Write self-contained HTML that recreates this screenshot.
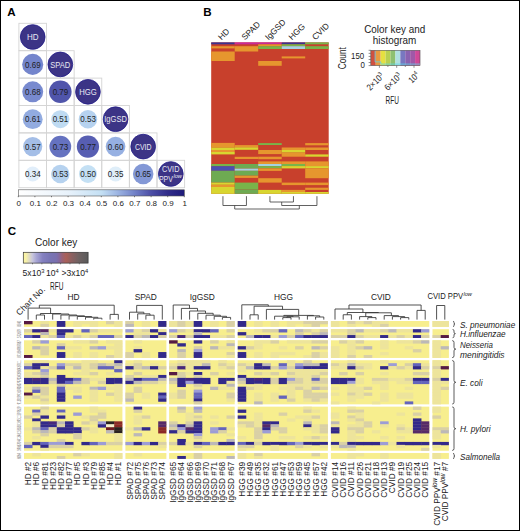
<!DOCTYPE html>
<html><head><meta charset="utf-8"><style>
html,body{margin:0;padding:0;background:#fff;}
body{width:520px;height:531px;overflow:hidden;}
svg{display:block;font-family:"Liberation Sans",sans-serif;}
</style></head><body>
<svg width="520" height="531" viewBox="0 0 520 531">
<rect x="0" y="0" width="520" height="531" fill="#fff"/>
<text x="7.2" y="16.2" font-size="11.6" fill="#000" font-weight="bold">A</text>
<rect x="18.9" y="23.3" width="27.62" height="27.4" fill="none" stroke="#d4d4d4" stroke-width="0.9"/>
<rect x="18.9" y="50.7" width="27.62" height="27.4" fill="none" stroke="#d4d4d4" stroke-width="0.9"/>
<rect x="46.52" y="50.7" width="27.62" height="27.4" fill="none" stroke="#d4d4d4" stroke-width="0.9"/>
<rect x="18.9" y="78.1" width="27.62" height="27.4" fill="none" stroke="#d4d4d4" stroke-width="0.9"/>
<rect x="46.52" y="78.1" width="27.62" height="27.4" fill="none" stroke="#d4d4d4" stroke-width="0.9"/>
<rect x="74.14" y="78.1" width="27.62" height="27.4" fill="none" stroke="#d4d4d4" stroke-width="0.9"/>
<rect x="18.9" y="105.5" width="27.62" height="27.4" fill="none" stroke="#d4d4d4" stroke-width="0.9"/>
<rect x="46.52" y="105.5" width="27.62" height="27.4" fill="none" stroke="#d4d4d4" stroke-width="0.9"/>
<rect x="74.14" y="105.5" width="27.62" height="27.4" fill="none" stroke="#d4d4d4" stroke-width="0.9"/>
<rect x="101.76" y="105.5" width="27.62" height="27.4" fill="none" stroke="#d4d4d4" stroke-width="0.9"/>
<rect x="18.9" y="132.9" width="27.62" height="27.4" fill="none" stroke="#d4d4d4" stroke-width="0.9"/>
<rect x="46.52" y="132.9" width="27.62" height="27.4" fill="none" stroke="#d4d4d4" stroke-width="0.9"/>
<rect x="74.14" y="132.9" width="27.62" height="27.4" fill="none" stroke="#d4d4d4" stroke-width="0.9"/>
<rect x="101.76" y="132.9" width="27.62" height="27.4" fill="none" stroke="#d4d4d4" stroke-width="0.9"/>
<rect x="129.38" y="132.9" width="27.62" height="27.4" fill="none" stroke="#d4d4d4" stroke-width="0.9"/>
<rect x="18.9" y="160.3" width="27.62" height="27.4" fill="none" stroke="#d4d4d4" stroke-width="0.9"/>
<rect x="46.52" y="160.3" width="27.62" height="27.4" fill="none" stroke="#d4d4d4" stroke-width="0.9"/>
<rect x="74.14" y="160.3" width="27.62" height="27.4" fill="none" stroke="#d4d4d4" stroke-width="0.9"/>
<rect x="101.76" y="160.3" width="27.62" height="27.4" fill="none" stroke="#d4d4d4" stroke-width="0.9"/>
<rect x="129.38" y="160.3" width="27.62" height="27.4" fill="none" stroke="#d4d4d4" stroke-width="0.9"/>
<rect x="157" y="160.3" width="27.62" height="27.4" fill="none" stroke="#d4d4d4" stroke-width="0.9"/>
<circle cx="32.71" cy="37" r="12.35" fill="#3c3486" stroke="#221c88" stroke-width="0.8"/>
<text x="32.71" y="40.1" font-size="9.2" fill="#e8e8f2" text-anchor="middle" textLength="11.6" lengthAdjust="spacingAndGlyphs">HD</text>
<circle cx="32.71" cy="64.4" r="10.55" fill="#7485cc"/>
<text x="32.81" y="67.6" font-size="9.6" fill="#1e1e1e" text-anchor="middle" textLength="15.6" lengthAdjust="spacingAndGlyphs">0.69</text>
<circle cx="60.33" cy="64.4" r="12.35" fill="#3c3486" stroke="#221c88" stroke-width="0.8"/>
<text x="60.33" y="67.5" font-size="9.2" fill="#e8e8f2" text-anchor="middle" textLength="20.0" lengthAdjust="spacingAndGlyphs">SPAD</text>
<circle cx="32.71" cy="91.8" r="10.47" fill="#788acf"/>
<text x="32.81" y="95" font-size="9.6" fill="#1e1e1e" text-anchor="middle" textLength="15.6" lengthAdjust="spacingAndGlyphs">0.68</text>
<circle cx="60.33" cy="91.8" r="11.29" fill="#5055ab"/>
<text x="60.43" y="95" font-size="9.6" fill="#1e1e1e" text-anchor="middle" textLength="15.6" lengthAdjust="spacingAndGlyphs">0.79</text>
<circle cx="87.95" cy="91.8" r="12.35" fill="#3c3486" stroke="#221c88" stroke-width="0.8"/>
<text x="87.95" y="94.9" font-size="9.2" fill="#e8e8f2" text-anchor="middle" textLength="17.6" lengthAdjust="spacingAndGlyphs">HGG</text>
<circle cx="32.71" cy="119.2" r="9.92" fill="#92abe0"/>
<text x="32.81" y="122.4" font-size="9.6" fill="#1e1e1e" text-anchor="middle" textLength="15.6" lengthAdjust="spacingAndGlyphs">0.61</text>
<circle cx="60.33" cy="119.2" r="9.07" fill="#bfdbf2"/>
<text x="60.43" y="122.4" font-size="9.6" fill="#1e1e1e" text-anchor="middle" textLength="15.6" lengthAdjust="spacingAndGlyphs">0.51</text>
<circle cx="87.95" cy="119.2" r="9.25" fill="#b6d2ef"/>
<text x="88.05" y="122.4" font-size="9.6" fill="#1e1e1e" text-anchor="middle" textLength="15.6" lengthAdjust="spacingAndGlyphs">0.53</text>
<circle cx="115.57" cy="119.2" r="12.35" fill="#3c3486" stroke="#221c88" stroke-width="0.8"/>
<text x="115.57" y="122.3" font-size="9.2" fill="#e8e8f2" text-anchor="middle" textLength="22.6" lengthAdjust="spacingAndGlyphs">IgGSD</text>
<circle cx="32.71" cy="146.6" r="9.59" fill="#a4bee7"/>
<text x="32.81" y="149.8" font-size="9.6" fill="#1e1e1e" text-anchor="middle" textLength="15.6" lengthAdjust="spacingAndGlyphs">0.57</text>
<circle cx="60.33" cy="146.6" r="10.85" fill="#6572c0"/>
<text x="60.43" y="149.8" font-size="9.6" fill="#1e1e1e" text-anchor="middle" textLength="15.6" lengthAdjust="spacingAndGlyphs">0.73</text>
<circle cx="87.95" cy="146.6" r="11.14" fill="#575eb2"/>
<text x="88.05" y="149.8" font-size="9.6" fill="#1e1e1e" text-anchor="middle" textLength="15.6" lengthAdjust="spacingAndGlyphs">0.77</text>
<circle cx="115.57" cy="146.6" r="9.84" fill="#96b0e2"/>
<text x="115.67" y="149.8" font-size="9.6" fill="#1e1e1e" text-anchor="middle" textLength="15.6" lengthAdjust="spacingAndGlyphs">0.60</text>
<circle cx="143.19" cy="146.6" r="12.35" fill="#3c3486" stroke="#221c88" stroke-width="0.8"/>
<text x="143.19" y="149.7" font-size="9.2" fill="#e8e8f2" text-anchor="middle" textLength="16.6" lengthAdjust="spacingAndGlyphs">CVID</text>
<circle cx="32.71" cy="174" r="7.41" fill="#e1eefa"/>
<text x="32.81" y="177.2" font-size="9.6" fill="#1e1e1e" text-anchor="middle" textLength="15.6" lengthAdjust="spacingAndGlyphs">0.34</text>
<circle cx="60.33" cy="174" r="9.25" fill="#b6d2ef"/>
<text x="60.43" y="177.2" font-size="9.6" fill="#1e1e1e" text-anchor="middle" textLength="15.6" lengthAdjust="spacingAndGlyphs">0.53</text>
<circle cx="87.95" cy="174" r="8.98" fill="#c4e0f4"/>
<text x="88.05" y="177.2" font-size="9.6" fill="#1e1e1e" text-anchor="middle" textLength="15.6" lengthAdjust="spacingAndGlyphs">0.50</text>
<circle cx="115.57" cy="174" r="7.51" fill="#dfeef9"/>
<text x="115.67" y="177.2" font-size="9.6" fill="#1e1e1e" text-anchor="middle" textLength="15.6" lengthAdjust="spacingAndGlyphs">0.35</text>
<circle cx="143.19" cy="174" r="10.24" fill="#8398d6"/>
<text x="143.29" y="177.2" font-size="9.6" fill="#1e1e1e" text-anchor="middle" textLength="15.6" lengthAdjust="spacingAndGlyphs">0.65</text>
<circle cx="170.81" cy="174" r="12.35" fill="#3c3486" stroke="#221c88" stroke-width="0.8"/>
<text x="170.71" y="172" font-size="8.4" fill="#e8e8f2" text-anchor="middle" textLength="17.4" lengthAdjust="spacingAndGlyphs">CVID</text>
<text x="158.91" y="182" font-size="9.0" fill="#e8e8f2" textLength="14.0" lengthAdjust="spacingAndGlyphs">PPV</text>
<text x="173.41" y="178.3" font-size="5.6" fill="#e8e8f2" font-style="italic" textLength="8.4" lengthAdjust="spacingAndGlyphs">low</text>
<defs><linearGradient id="gA" x1="0" x2="1" y1="0" y2="0"><stop offset="0" stop-color="#ffffff"/><stop offset="0.3" stop-color="#e8f2fb"/><stop offset="0.5" stop-color="#c4e0f4"/><stop offset="0.6" stop-color="#9cb4e2"/><stop offset="0.7" stop-color="#7282c8"/><stop offset="0.8" stop-color="#4c4ea6"/><stop offset="0.9" stop-color="#302c8a"/><stop offset="1" stop-color="#1e1a7a"/></linearGradient>
<linearGradient id="gB" x1="0" x2="1" y1="0" y2="0"><stop offset="0" stop-color="#fcf5a4"/><stop offset="0.04" stop-color="#f8f2a8"/><stop offset="0.14" stop-color="#c8c6dc"/><stop offset="0.2" stop-color="#a8a6d4"/><stop offset="0.3" stop-color="#8480c0"/><stop offset="0.42" stop-color="#7874b4"/><stop offset="0.51" stop-color="#7a70ae"/><stop offset="0.55" stop-color="#84689e"/><stop offset="0.6" stop-color="#9a6274"/><stop offset="0.66" stop-color="#aa6058"/><stop offset="0.74" stop-color="#8e6060"/><stop offset="0.85" stop-color="#706262"/><stop offset="1" stop-color="#5a5a5a"/></linearGradient></defs>
<rect x="18.3" y="189.8" width="166" height="6.2" fill="url(#gA)" stroke="#555" stroke-width="0.6"/>
<line x1="18.3" y1="196" x2="18.3" y2="197.2" stroke="#555" stroke-width="0.8"/>
<text x="18.7" y="206.3" font-size="8.0" fill="#222" text-anchor="middle">0</text>
<line x1="34.9" y1="196" x2="34.9" y2="197.2" stroke="#555" stroke-width="0.8"/>
<text x="35.3" y="206.3" font-size="8.0" fill="#222" text-anchor="middle">0.1</text>
<line x1="51.5" y1="196" x2="51.5" y2="197.2" stroke="#555" stroke-width="0.8"/>
<text x="51.9" y="206.3" font-size="8.0" fill="#222" text-anchor="middle">0.2</text>
<line x1="68.1" y1="196" x2="68.1" y2="197.2" stroke="#555" stroke-width="0.8"/>
<text x="68.5" y="206.3" font-size="8.0" fill="#222" text-anchor="middle">0.3</text>
<line x1="84.7" y1="196" x2="84.7" y2="197.2" stroke="#555" stroke-width="0.8"/>
<text x="85.1" y="206.3" font-size="8.0" fill="#222" text-anchor="middle">0.4</text>
<line x1="101.3" y1="196" x2="101.3" y2="197.2" stroke="#555" stroke-width="0.8"/>
<text x="101.7" y="206.3" font-size="8.0" fill="#222" text-anchor="middle">0.5</text>
<line x1="117.9" y1="196" x2="117.9" y2="197.2" stroke="#555" stroke-width="0.8"/>
<text x="118.3" y="206.3" font-size="8.0" fill="#222" text-anchor="middle">0.6</text>
<line x1="134.5" y1="196" x2="134.5" y2="197.2" stroke="#555" stroke-width="0.8"/>
<text x="134.9" y="206.3" font-size="8.0" fill="#222" text-anchor="middle">0.7</text>
<line x1="151.1" y1="196" x2="151.1" y2="197.2" stroke="#555" stroke-width="0.8"/>
<text x="151.5" y="206.3" font-size="8.0" fill="#222" text-anchor="middle">0.8</text>
<line x1="167.7" y1="196" x2="167.7" y2="197.2" stroke="#555" stroke-width="0.8"/>
<text x="168.1" y="206.3" font-size="8.0" fill="#222" text-anchor="middle">0.9</text>
<line x1="184.3" y1="196" x2="184.3" y2="197.2" stroke="#555" stroke-width="0.8"/>
<text x="184.7" y="206.3" font-size="8.0" fill="#222" text-anchor="middle">1</text>
<text x="203.2" y="16.2" font-size="11.6" fill="#000" font-weight="bold">B</text>
<rect x="211.2" y="42.4" width="117.5" height="151.4" fill="#c8402c"/>
<rect x="211.2" y="42.4" width="23.5" height="1.9" fill="#3c3290"/>
<rect x="211.2" y="46.2" width="23.5" height="2.2" fill="#e6962e"/>
<rect x="211.2" y="51.5" width="23.5" height="9.5" fill="#e6962e"/>
<rect x="211.2" y="142.9" width="23.5" height="4.7" fill="#e6962e"/>
<rect x="211.2" y="147.6" width="23.5" height="2.4" fill="#d8d630"/>
<rect x="211.2" y="150" width="23.5" height="2" fill="#e6962e"/>
<rect x="211.2" y="152" width="23.5" height="2.4" fill="#d8d630"/>
<rect x="211.2" y="164" width="23.5" height="2.2" fill="#78b44a"/>
<rect x="211.2" y="166.2" width="23.5" height="4.6" fill="#4a50b0"/>
<rect x="211.2" y="170.8" width="23.5" height="11.8" fill="#6eaa52"/>
<rect x="211.2" y="182.6" width="23.5" height="2.2" fill="#d8d630"/>
<rect x="211.2" y="184.8" width="23.5" height="2.2" fill="#e6962e"/>
<rect x="211.2" y="187" width="23.5" height="6.8" fill="#d8d630"/>
<rect x="234.7" y="42.4" width="23.5" height="1.9" fill="#c82a98"/>
<rect x="234.7" y="46.2" width="23.5" height="5.3" fill="#e6962e"/>
<rect x="234.7" y="145.1" width="23.5" height="2.2" fill="#e6962e"/>
<rect x="234.7" y="147.3" width="23.5" height="2.5" fill="#d8d630"/>
<rect x="234.7" y="156.8" width="23.5" height="2.2" fill="#e6962e"/>
<rect x="234.7" y="164" width="23.5" height="4.6" fill="#6eaa52"/>
<rect x="234.7" y="168.6" width="23.5" height="2.2" fill="#a4d2e2"/>
<rect x="234.7" y="170.8" width="23.5" height="4.9" fill="#6eaa52"/>
<rect x="234.7" y="175.7" width="23.5" height="2.2" fill="#e6962e"/>
<rect x="234.7" y="182.6" width="23.5" height="6.8" fill="#78b44a"/>
<rect x="234.7" y="189.4" width="23.5" height="4.4" fill="#6eaa52"/>
<rect x="258.2" y="42.4" width="23.5" height="1.9" fill="#c82a98"/>
<rect x="258.2" y="44.3" width="23.5" height="1.9" fill="#e6962e"/>
<rect x="258.2" y="46.2" width="23.5" height="2.8" fill="#78b44a"/>
<rect x="258.2" y="61" width="23.5" height="4.8" fill="#e6962e"/>
<rect x="258.2" y="143.1" width="23.5" height="1.9" fill="#78b44a"/>
<rect x="258.2" y="150" width="23.5" height="4.1" fill="#e6962e"/>
<rect x="258.2" y="156.7" width="23.5" height="2.5" fill="#e6962e"/>
<rect x="258.2" y="161.4" width="23.5" height="2.6" fill="#e6962e"/>
<rect x="258.2" y="164" width="23.5" height="2.1" fill="#a4d2e2"/>
<rect x="258.2" y="166.1" width="23.5" height="2.3" fill="#78b44a"/>
<rect x="258.2" y="168.4" width="23.5" height="2.5" fill="#e6962e"/>
<rect x="258.2" y="178.2" width="23.5" height="4.4" fill="#e6962e"/>
<rect x="258.2" y="189.9" width="23.5" height="3.9" fill="#d8d630"/>
<rect x="281.7" y="42.4" width="23.5" height="1.9" fill="#3c3290"/>
<rect x="281.7" y="44.3" width="23.5" height="1.9" fill="#78b44a"/>
<rect x="281.7" y="46.2" width="23.5" height="2.8" fill="#a4d2e2"/>
<rect x="281.7" y="56.4" width="23.5" height="2" fill="#e6962e"/>
<rect x="281.7" y="147.5" width="23.5" height="2.5" fill="#e6962e"/>
<rect x="281.7" y="150" width="23.5" height="2.6" fill="#d8d630"/>
<rect x="281.7" y="152.6" width="23.5" height="4.1" fill="#e6962e"/>
<rect x="281.7" y="161.4" width="23.5" height="2.6" fill="#e6962e"/>
<rect x="281.7" y="164" width="23.5" height="2.1" fill="#78b44a"/>
<rect x="281.7" y="166.1" width="23.5" height="2.3" fill="#d8d630"/>
<rect x="281.7" y="182.6" width="23.5" height="2.5" fill="#e6962e"/>
<rect x="281.7" y="189.9" width="23.5" height="2.1" fill="#e6962e"/>
<rect x="281.7" y="192" width="23.5" height="1.8" fill="#d8d630"/>
<rect x="305.2" y="42.4" width="23.5" height="1.9" fill="#78b44a"/>
<rect x="305.2" y="46.2" width="23.5" height="2.8" fill="#78b44a"/>
<rect x="305.2" y="143.1" width="23.5" height="2.2" fill="#e6962e"/>
<rect x="305.2" y="147.5" width="23.5" height="2.5" fill="#e6962e"/>
<rect x="305.2" y="154.4" width="23.5" height="2.3" fill="#d8d630"/>
<rect x="305.2" y="161.4" width="23.5" height="4.7" fill="#e6962e"/>
<rect x="305.2" y="166.1" width="23.5" height="2.3" fill="#d8d630"/>
<rect x="305.2" y="168.4" width="23.5" height="9.8" fill="#e6962e"/>
<rect x="305.2" y="182.6" width="23.5" height="2.5" fill="#e6962e"/>
<rect x="305.2" y="187.7" width="23.5" height="2.2" fill="#e6962e"/>
<rect x="305.2" y="192" width="23.5" height="1.8" fill="#d8d630"/>
<text x="221.55" y="40.6" font-size="8.4" fill="#222" transform="rotate(-45 221.55 40.6)">HD</text>
<text x="245.05" y="40.6" font-size="8.4" fill="#222" transform="rotate(-45 245.05 40.6)">SPAD</text>
<text x="268.55" y="40.6" font-size="8.4" fill="#222" transform="rotate(-45 268.55 40.6)">IgGSD</text>
<text x="292.05" y="40.6" font-size="8.4" fill="#222" transform="rotate(-45 292.05 40.6)">HGG</text>
<text x="315.55" y="40.6" font-size="8.4" fill="#222" transform="rotate(-45 315.55 40.6)">CVID</text>
<path d="M222.95 196.2V205.5H246.45V196.2" fill="none" stroke="#3a3a3a" stroke-width="0.8"/>
<path d="M269.95 196.2V202H293.45V196.2" fill="none" stroke="#3a3a3a" stroke-width="0.8"/>
<path d="M281.7 202V205.5H316.95V196.2" fill="none" stroke="#3a3a3a" stroke-width="0.8"/>
<path d="M234.7 205.5V209H299.32V205.5" fill="none" stroke="#3a3a3a" stroke-width="0.8"/>
<text x="0" y="0" font-size="10.6" fill="#222" text-anchor="middle" transform="translate(394.7 33) scale(0.935 1)">Color key and</text>
<text x="0" y="0" font-size="10.6" fill="#222" text-anchor="middle" transform="translate(394.6 43.8) scale(0.935 1)">histogram</text>
<rect x="370.8" y="50.3" width="4.97" height="15.3" fill="#d05040"/>
<rect x="375.72" y="50.3" width="4.97" height="15.3" fill="#e89a40"/>
<rect x="380.64" y="50.3" width="4.97" height="15.3" fill="#e6e040"/>
<rect x="385.56" y="50.3" width="4.97" height="15.3" fill="#b8d050"/>
<rect x="390.48" y="50.3" width="4.97" height="15.3" fill="#8ec070"/>
<rect x="395.4" y="50.3" width="4.97" height="15.3" fill="#b0e0e0"/>
<rect x="400.32" y="50.3" width="4.97" height="15.3" fill="#7878c0"/>
<rect x="405.24" y="50.3" width="4.97" height="15.3" fill="#8a62b0"/>
<rect x="410.16" y="50.3" width="4.97" height="15.3" fill="#a058a8"/>
<rect x="415.08" y="50.3" width="4.97" height="15.3" fill="#d04898"/>
<rect x="370.8" y="50.3" width="49.2" height="15.3" fill="none" stroke="#555" stroke-width="0.6"/>
<path d="M375.1 51.1V61.9H380.8V64.1H420" fill="none" stroke="#5ed6e6" stroke-width="0.8"/>
<line x1="368.6" y1="50.3" x2="370.8" y2="50.3" stroke="#444" stroke-width="0.6"/>
<line x1="368.6" y1="53.36" x2="370.8" y2="53.36" stroke="#444" stroke-width="0.6"/>
<line x1="368.6" y1="56.42" x2="370.8" y2="56.42" stroke="#444" stroke-width="0.6"/>
<line x1="368.6" y1="59.48" x2="370.8" y2="59.48" stroke="#444" stroke-width="0.6"/>
<line x1="368.6" y1="62.54" x2="370.8" y2="62.54" stroke="#444" stroke-width="0.6"/>
<line x1="368.6" y1="65.6" x2="370.8" y2="65.6" stroke="#444" stroke-width="0.6"/>
<text x="0" y="0" font-size="9.4" fill="#222" text-anchor="end" transform="translate(364.2 59.4) scale(0.84 1)">150</text>
<text x="0" y="0" font-size="9.4" fill="#222" text-anchor="end" transform="translate(364.9 68.4) scale(0.84 1)">0</text>
<text x="0" y="0" font-size="10.4" fill="#222" text-anchor="middle" transform="translate(345.9 58.2) rotate(-90) scale(0.8 1)">Count</text>
<line x1="379.4" y1="65.6" x2="379.4" y2="67.8" stroke="#444" stroke-width="0.6"/>
<line x1="396.7" y1="65.6" x2="396.7" y2="67.8" stroke="#444" stroke-width="0.6"/>
<line x1="414" y1="65.6" x2="414" y2="67.8" stroke="#444" stroke-width="0.6"/>
<line x1="387.9" y1="65.6" x2="387.9" y2="67" stroke="#444" stroke-width="0.6"/>
<line x1="405.3" y1="65.6" x2="405.3" y2="67" stroke="#444" stroke-width="0.6"/>
<text x="0" y="0" font-size="9.0" fill="#222" text-anchor="end" transform="translate(384.6 76.6) rotate(-45) scale(0.86 1)">2×10<tspan font-size="6.0" dy="-3.2">3</tspan></text>
<text x="0" y="0" font-size="9.0" fill="#222" text-anchor="end" transform="translate(402.4 76.6) rotate(-45) scale(0.86 1)">6×10<tspan font-size="6.0" dy="-3.2">3</tspan></text>
<text x="0" y="0" font-size="9.0" fill="#222" text-anchor="end" transform="translate(420 75.6) rotate(-45) scale(0.86 1)">10<tspan font-size="6.0" dy="-3.2">4</tspan></text>
<text x="392.3" y="103.8" font-size="10.4" fill="#222" text-anchor="middle" textLength="13.4" lengthAdjust="spacingAndGlyphs">RFU</text>
<text x="7.7" y="235.2" font-size="11.6" fill="#000" font-weight="bold">C</text>
<text x="56.2" y="246.3" font-size="10.0" fill="#222" text-anchor="middle">Color key</text>
<rect x="23.3" y="252.3" width="64.8" height="10.8" fill="url(#gB)" stroke="#333" stroke-width="0.7"/>
<line x1="32.5" y1="263.1" x2="32.5" y2="264.3" stroke="#333" stroke-width="0.6"/>
<line x1="41.86" y1="263.1" x2="41.86" y2="264.3" stroke="#333" stroke-width="0.6"/>
<line x1="51.22" y1="263.1" x2="51.22" y2="264.3" stroke="#333" stroke-width="0.6"/>
<line x1="60.58" y1="263.1" x2="60.58" y2="264.3" stroke="#333" stroke-width="0.6"/>
<line x1="69.94" y1="263.1" x2="69.94" y2="264.3" stroke="#333" stroke-width="0.6"/>
<line x1="79.3" y1="263.1" x2="79.3" y2="264.3" stroke="#333" stroke-width="0.6"/>
<text x="22.6" y="276" font-size="8.6" fill="#222">5x10<tspan font-size="5.8" dy="-3.4">3</tspan></text>
<text x="46" y="276" font-size="8.6" fill="#222">10<tspan font-size="5.8" dy="-3.4">4</tspan></text>
<text x="61.4" y="276" font-size="8.6" fill="#222">&gt;3x10<tspan font-size="5.8" dy="-3.4">4</tspan></text>
<text x="56.8" y="289.8" font-size="11.0" fill="#222" text-anchor="middle" textLength="13.4" lengthAdjust="spacingAndGlyphs">RFU</text>
<text x="19.6" y="316" font-size="8.6" fill="#222" transform="rotate(-45 19.6 316)">Chart No.</text>
<rect x="24" y="321" width="98.4" height="5.88" fill="#f7ee8e"/>
<rect x="125.4" y="321" width="41" height="5.88" fill="#f7ee8e"/>
<rect x="169.1" y="321" width="65.6" height="5.88" fill="#f7ee8e"/>
<rect x="237.7" y="321" width="90.2" height="5.88" fill="#f7ee8e"/>
<rect x="330.9" y="321" width="98.4" height="5.88" fill="#f7ee8e"/>
<rect x="432.5" y="321" width="16.4" height="5.88" fill="#f7ee8e"/>
<rect x="24" y="329.18" width="98.4" height="8.82" fill="#f7ee8e"/>
<rect x="125.4" y="329.18" width="41" height="8.82" fill="#f7ee8e"/>
<rect x="169.1" y="329.18" width="65.6" height="8.82" fill="#f7ee8e"/>
<rect x="237.7" y="329.18" width="90.2" height="8.82" fill="#f7ee8e"/>
<rect x="330.9" y="329.18" width="98.4" height="8.82" fill="#f7ee8e"/>
<rect x="432.5" y="329.18" width="16.4" height="8.82" fill="#f7ee8e"/>
<rect x="24" y="340.3" width="98.4" height="17.64" fill="#f7ee8e"/>
<rect x="125.4" y="340.3" width="41" height="17.64" fill="#f7ee8e"/>
<rect x="169.1" y="340.3" width="65.6" height="17.64" fill="#f7ee8e"/>
<rect x="237.7" y="340.3" width="90.2" height="17.64" fill="#f7ee8e"/>
<rect x="330.9" y="340.3" width="98.4" height="17.64" fill="#f7ee8e"/>
<rect x="432.5" y="340.3" width="16.4" height="17.64" fill="#f7ee8e"/>
<rect x="24" y="360.24" width="98.4" height="44.1" fill="#f7ee8e"/>
<rect x="125.4" y="360.24" width="41" height="44.1" fill="#f7ee8e"/>
<rect x="169.1" y="360.24" width="65.6" height="44.1" fill="#f7ee8e"/>
<rect x="237.7" y="360.24" width="90.2" height="44.1" fill="#f7ee8e"/>
<rect x="330.9" y="360.24" width="98.4" height="44.1" fill="#f7ee8e"/>
<rect x="432.5" y="360.24" width="16.4" height="44.1" fill="#f7ee8e"/>
<rect x="24" y="406.64" width="98.4" height="44.1" fill="#f7ee8e"/>
<rect x="125.4" y="406.64" width="41" height="44.1" fill="#f7ee8e"/>
<rect x="169.1" y="406.64" width="65.6" height="44.1" fill="#f7ee8e"/>
<rect x="237.7" y="406.64" width="90.2" height="44.1" fill="#f7ee8e"/>
<rect x="330.9" y="406.64" width="98.4" height="44.1" fill="#f7ee8e"/>
<rect x="432.5" y="406.64" width="16.4" height="44.1" fill="#f7ee8e"/>
<rect x="24" y="453.04" width="98.4" height="5.88" fill="#f7ee8e"/>
<rect x="125.4" y="453.04" width="41" height="5.88" fill="#f7ee8e"/>
<rect x="169.1" y="453.04" width="65.6" height="5.88" fill="#f7ee8e"/>
<rect x="237.7" y="453.04" width="90.2" height="5.88" fill="#f7ee8e"/>
<rect x="330.9" y="453.04" width="98.4" height="5.88" fill="#f7ee8e"/>
<rect x="432.5" y="453.04" width="16.4" height="5.88" fill="#f7ee8e"/>
<rect x="24" y="321" width="8.55" height="3.29" fill="#561a44"/>
<rect x="40.4" y="321" width="8.55" height="3.29" fill="#ede49c"/>
<rect x="56.8" y="321" width="8.55" height="3.29" fill="#32298a"/>
<rect x="73.2" y="321" width="8.55" height="3.29" fill="#ede49c"/>
<rect x="81.4" y="321" width="8.55" height="3.29" fill="#ede49c"/>
<rect x="89.6" y="321" width="8.55" height="3.29" fill="#ede49c"/>
<rect x="106" y="321" width="8.55" height="3.29" fill="#d9d0a6"/>
<rect x="114.2" y="321" width="8.2" height="3.29" fill="#ede49c"/>
<rect x="40.4" y="323.94" width="8.55" height="2.94" fill="#d9d0a6"/>
<rect x="56.8" y="323.94" width="8.55" height="2.94" fill="#32298a"/>
<rect x="73.2" y="323.94" width="8.55" height="2.94" fill="#ede49c"/>
<rect x="89.6" y="323.94" width="8.55" height="2.94" fill="#ede49c"/>
<rect x="114.2" y="323.94" width="8.2" height="2.94" fill="#ede49c"/>
<rect x="24" y="329.18" width="8.55" height="3.29" fill="#d9d0a6"/>
<rect x="32.2" y="329.18" width="8.55" height="3.29" fill="#32298a"/>
<rect x="40.4" y="329.18" width="8.55" height="3.29" fill="#562a68"/>
<rect x="48.6" y="329.18" width="8.55" height="3.29" fill="#ede49c"/>
<rect x="56.8" y="329.18" width="8.55" height="3.29" fill="#32298a"/>
<rect x="65" y="329.18" width="8.55" height="3.29" fill="#32298a"/>
<rect x="81.4" y="329.18" width="8.55" height="3.29" fill="#6464bc"/>
<rect x="89.6" y="329.18" width="8.55" height="3.29" fill="#d9d0a6"/>
<rect x="97.8" y="329.18" width="8.55" height="3.29" fill="#ede49c"/>
<rect x="106" y="329.18" width="8.55" height="3.29" fill="#ede49c"/>
<rect x="114.2" y="329.18" width="8.2" height="3.29" fill="#ede49c"/>
<rect x="40.4" y="332.12" width="8.55" height="3.29" fill="#bcb8b8"/>
<rect x="56.8" y="332.12" width="8.55" height="3.29" fill="#32298a"/>
<rect x="24" y="335.06" width="8.55" height="2.94" fill="#6464bc"/>
<rect x="32.2" y="335.06" width="8.55" height="2.94" fill="#32298a"/>
<rect x="40.4" y="335.06" width="8.55" height="2.94" fill="#ede49c"/>
<rect x="48.6" y="335.06" width="8.55" height="2.94" fill="#d9d0a6"/>
<rect x="56.8" y="335.06" width="8.55" height="2.94" fill="#6464bc"/>
<rect x="65" y="335.06" width="8.55" height="2.94" fill="#ede49c"/>
<rect x="73.2" y="335.06" width="8.55" height="2.94" fill="#d9d0a6"/>
<rect x="81.4" y="335.06" width="8.55" height="2.94" fill="#ede49c"/>
<rect x="89.6" y="335.06" width="8.55" height="2.94" fill="#d9d0a6"/>
<rect x="97.8" y="335.06" width="8.55" height="2.94" fill="#6464bc"/>
<rect x="106" y="335.06" width="8.55" height="2.94" fill="#6464bc"/>
<rect x="114.2" y="335.06" width="8.2" height="2.94" fill="#d9d0a6"/>
<rect x="32.2" y="340.3" width="8.55" height="3.29" fill="#d9d0a6"/>
<rect x="40.4" y="340.3" width="8.55" height="3.29" fill="#9c9cd6"/>
<rect x="73.2" y="340.3" width="8.55" height="3.29" fill="#ede49c"/>
<rect x="81.4" y="340.3" width="8.55" height="3.29" fill="#ede49c"/>
<rect x="89.6" y="340.3" width="8.55" height="3.29" fill="#d9d0a6"/>
<rect x="106" y="340.3" width="8.55" height="3.29" fill="#ede49c"/>
<rect x="114.2" y="340.3" width="8.2" height="3.29" fill="#ede49c"/>
<rect x="56.8" y="343.24" width="8.55" height="3.29" fill="#d9d0a6"/>
<rect x="114.2" y="343.24" width="8.2" height="3.29" fill="#ede49c"/>
<rect x="32.2" y="346.18" width="8.55" height="3.29" fill="#bcb8b8"/>
<rect x="40.4" y="346.18" width="8.55" height="3.29" fill="#d9d0a6"/>
<rect x="56.8" y="346.18" width="8.55" height="3.29" fill="#6464bc"/>
<rect x="65" y="346.18" width="8.55" height="3.29" fill="#ede49c"/>
<rect x="73.2" y="346.18" width="8.55" height="3.29" fill="#ede49c"/>
<rect x="89.6" y="346.18" width="8.55" height="3.29" fill="#bcb8b8"/>
<rect x="97.8" y="346.18" width="8.55" height="3.29" fill="#9c9cd6"/>
<rect x="106" y="346.18" width="8.55" height="3.29" fill="#ede49c"/>
<rect x="114.2" y="346.18" width="8.2" height="3.29" fill="#ede49c"/>
<rect x="40.4" y="349.12" width="8.55" height="3.29" fill="#d9d0a6"/>
<rect x="114.2" y="349.12" width="8.2" height="3.29" fill="#ede49c"/>
<rect x="40.4" y="352.06" width="8.55" height="3.29" fill="#d9d0a6"/>
<rect x="56.8" y="352.06" width="8.55" height="3.29" fill="#32298a"/>
<rect x="73.2" y="352.06" width="8.55" height="3.29" fill="#ede49c"/>
<rect x="89.6" y="352.06" width="8.55" height="3.29" fill="#ede49c"/>
<rect x="114.2" y="352.06" width="8.2" height="3.29" fill="#ede49c"/>
<rect x="24" y="355" width="8.55" height="2.94" fill="#561a44"/>
<rect x="56.8" y="355" width="8.55" height="2.94" fill="#32298a"/>
<rect x="73.2" y="355" width="8.55" height="2.94" fill="#ede49c"/>
<rect x="89.6" y="355" width="8.55" height="2.94" fill="#ede49c"/>
<rect x="106" y="355" width="8.55" height="2.94" fill="#d9d0a6"/>
<rect x="114.2" y="355" width="8.2" height="2.94" fill="#ede49c"/>
<rect x="32.2" y="360.24" width="8.55" height="3.29" fill="#ede49c"/>
<rect x="40.4" y="360.24" width="8.55" height="3.29" fill="#ede49c"/>
<rect x="81.4" y="360.24" width="8.55" height="3.29" fill="#ede49c"/>
<rect x="89.6" y="360.24" width="8.55" height="3.29" fill="#ede49c"/>
<rect x="114.2" y="360.24" width="8.2" height="3.29" fill="#32298a"/>
<rect x="24" y="363.18" width="8.55" height="3.29" fill="#d9d0a6"/>
<rect x="32.2" y="363.18" width="8.55" height="3.29" fill="#32298a"/>
<rect x="40.4" y="363.18" width="8.55" height="3.29" fill="#32298a"/>
<rect x="56.8" y="363.18" width="8.55" height="3.29" fill="#9c9cd6"/>
<rect x="65" y="363.18" width="8.55" height="3.29" fill="#d9d0a6"/>
<rect x="73.2" y="363.18" width="8.55" height="3.29" fill="#d9d0a6"/>
<rect x="81.4" y="363.18" width="8.55" height="3.29" fill="#ede49c"/>
<rect x="89.6" y="363.18" width="8.55" height="3.29" fill="#d9d0a6"/>
<rect x="97.8" y="363.18" width="8.55" height="3.29" fill="#bcb8b8"/>
<rect x="106" y="363.18" width="8.55" height="3.29" fill="#d9d0a6"/>
<rect x="114.2" y="363.18" width="8.2" height="3.29" fill="#bcb8b8"/>
<rect x="24" y="366.12" width="8.55" height="3.29" fill="#6464bc"/>
<rect x="32.2" y="366.12" width="8.55" height="3.29" fill="#32298a"/>
<rect x="40.4" y="366.12" width="8.55" height="3.29" fill="#ede49c"/>
<rect x="48.6" y="366.12" width="8.55" height="3.29" fill="#d9d0a6"/>
<rect x="56.8" y="366.12" width="8.55" height="3.29" fill="#6464bc"/>
<rect x="65" y="366.12" width="8.55" height="3.29" fill="#ede49c"/>
<rect x="73.2" y="366.12" width="8.55" height="3.29" fill="#bcb8b8"/>
<rect x="81.4" y="366.12" width="8.55" height="3.29" fill="#ede49c"/>
<rect x="89.6" y="366.12" width="8.55" height="3.29" fill="#d9d0a6"/>
<rect x="97.8" y="366.12" width="8.55" height="3.29" fill="#6464bc"/>
<rect x="106" y="366.12" width="8.55" height="3.29" fill="#6464bc"/>
<rect x="114.2" y="366.12" width="8.2" height="3.29" fill="#d9d0a6"/>
<rect x="40.4" y="369.06" width="8.55" height="3.29" fill="#9c9cd6"/>
<rect x="81.4" y="369.06" width="8.55" height="3.29" fill="#ede49c"/>
<rect x="114.2" y="369.06" width="8.2" height="3.29" fill="#6464bc"/>
<rect x="24" y="372" width="8.55" height="3.29" fill="#ede49c"/>
<rect x="32.2" y="372" width="8.55" height="3.29" fill="#d9d0a6"/>
<rect x="40.4" y="372" width="8.55" height="3.29" fill="#bcb8b8"/>
<rect x="73.2" y="372" width="8.55" height="3.29" fill="#ede49c"/>
<rect x="81.4" y="372" width="8.55" height="3.29" fill="#ede49c"/>
<rect x="89.6" y="372" width="8.55" height="3.29" fill="#d9d0a6"/>
<rect x="106" y="372" width="8.55" height="3.29" fill="#ede49c"/>
<rect x="24" y="374.94" width="8.55" height="3.29" fill="#ede49c"/>
<rect x="32.2" y="374.94" width="8.55" height="3.29" fill="#ede49c"/>
<rect x="40.4" y="374.94" width="8.55" height="3.29" fill="#d9d0a6"/>
<rect x="56.8" y="374.94" width="8.55" height="3.29" fill="#32298a"/>
<rect x="24" y="377.88" width="8.55" height="3.29" fill="#32298a"/>
<rect x="32.2" y="377.88" width="8.55" height="3.29" fill="#46287c"/>
<rect x="40.4" y="377.88" width="8.55" height="3.29" fill="#32298a"/>
<rect x="48.6" y="377.88" width="8.55" height="3.29" fill="#bcb8b8"/>
<rect x="56.8" y="377.88" width="8.55" height="3.29" fill="#32298a"/>
<rect x="65" y="377.88" width="8.55" height="3.29" fill="#32298a"/>
<rect x="73.2" y="377.88" width="8.55" height="3.29" fill="#6464bc"/>
<rect x="81.4" y="377.88" width="8.55" height="3.29" fill="#d9d0a6"/>
<rect x="89.6" y="377.88" width="8.55" height="3.29" fill="#ede49c"/>
<rect x="97.8" y="377.88" width="8.55" height="3.29" fill="#ede49c"/>
<rect x="106" y="377.88" width="8.55" height="3.29" fill="#32298a"/>
<rect x="114.2" y="377.88" width="8.2" height="3.29" fill="#32298a"/>
<rect x="24" y="380.82" width="8.55" height="3.29" fill="#32298a"/>
<rect x="32.2" y="380.82" width="8.55" height="3.29" fill="#32298a"/>
<rect x="40.4" y="380.82" width="8.55" height="3.29" fill="#32298a"/>
<rect x="48.6" y="380.82" width="8.55" height="3.29" fill="#d9d0a6"/>
<rect x="56.8" y="380.82" width="8.55" height="3.29" fill="#32298a"/>
<rect x="65" y="380.82" width="8.55" height="3.29" fill="#6464bc"/>
<rect x="73.2" y="380.82" width="8.55" height="3.29" fill="#bcb8b8"/>
<rect x="81.4" y="380.82" width="8.55" height="3.29" fill="#d9d0a6"/>
<rect x="97.8" y="380.82" width="8.55" height="3.29" fill="#d9d0a6"/>
<rect x="106" y="380.82" width="8.55" height="3.29" fill="#32298a"/>
<rect x="114.2" y="380.82" width="8.2" height="3.29" fill="#32298a"/>
<rect x="56.8" y="383.76" width="8.55" height="3.29" fill="#d9d0a6"/>
<rect x="114.2" y="383.76" width="8.2" height="3.29" fill="#ede49c"/>
<rect x="24" y="386.7" width="8.55" height="3.29" fill="#ede49c"/>
<rect x="32.2" y="386.7" width="8.55" height="3.29" fill="#bcb8b8"/>
<rect x="40.4" y="386.7" width="8.55" height="3.29" fill="#d9d0a6"/>
<rect x="56.8" y="386.7" width="8.55" height="3.29" fill="#6464bc"/>
<rect x="65" y="386.7" width="8.55" height="3.29" fill="#ede49c"/>
<rect x="73.2" y="386.7" width="8.55" height="3.29" fill="#ede49c"/>
<rect x="89.6" y="386.7" width="8.55" height="3.29" fill="#bcb8b8"/>
<rect x="97.8" y="386.7" width="8.55" height="3.29" fill="#9c9cd6"/>
<rect x="106" y="386.7" width="8.55" height="3.29" fill="#ede49c"/>
<rect x="114.2" y="386.7" width="8.2" height="3.29" fill="#ede49c"/>
<rect x="32.2" y="389.64" width="8.55" height="3.29" fill="#6464bc"/>
<rect x="40.4" y="389.64" width="8.55" height="3.29" fill="#d9d0a6"/>
<rect x="56.8" y="389.64" width="8.55" height="3.29" fill="#6464bc"/>
<rect x="73.2" y="389.64" width="8.55" height="3.29" fill="#ede49c"/>
<rect x="89.6" y="389.64" width="8.55" height="3.29" fill="#ede49c"/>
<rect x="114.2" y="389.64" width="8.2" height="3.29" fill="#ede49c"/>
<rect x="24" y="392.58" width="8.55" height="3.29" fill="#561a44"/>
<rect x="40.4" y="392.58" width="8.55" height="3.29" fill="#d9d0a6"/>
<rect x="56.8" y="392.58" width="8.55" height="3.29" fill="#32298a"/>
<rect x="89.6" y="392.58" width="8.55" height="3.29" fill="#ede49c"/>
<rect x="106" y="392.58" width="8.55" height="3.29" fill="#d9d0a6"/>
<rect x="114.2" y="392.58" width="8.2" height="3.29" fill="#ede49c"/>
<rect x="24" y="395.52" width="8.55" height="3.29" fill="#ede49c"/>
<rect x="32.2" y="395.52" width="8.55" height="3.29" fill="#d9d0a6"/>
<rect x="40.4" y="395.52" width="8.55" height="3.29" fill="#ede49c"/>
<rect x="56.8" y="395.52" width="8.55" height="3.29" fill="#32298a"/>
<rect x="73.2" y="395.52" width="8.55" height="3.29" fill="#9c9cd6"/>
<rect x="89.6" y="395.52" width="8.55" height="3.29" fill="#ede49c"/>
<rect x="114.2" y="395.52" width="8.2" height="3.29" fill="#ede49c"/>
<rect x="40.4" y="398.46" width="8.55" height="3.29" fill="#d9d0a6"/>
<rect x="56.8" y="398.46" width="8.55" height="3.29" fill="#32298a"/>
<rect x="89.6" y="398.46" width="8.55" height="3.29" fill="#ede49c"/>
<rect x="114.2" y="398.46" width="8.2" height="3.29" fill="#ede49c"/>
<rect x="40.4" y="401.4" width="8.55" height="2.94" fill="#ede49c"/>
<rect x="40.4" y="406.64" width="8.55" height="3.29" fill="#d9d0a6"/>
<rect x="89.6" y="406.64" width="8.55" height="3.29" fill="#ede49c"/>
<rect x="32.2" y="409.58" width="8.55" height="3.29" fill="#6464bc"/>
<rect x="40.4" y="409.58" width="8.55" height="3.29" fill="#ede49c"/>
<rect x="56.8" y="409.58" width="8.55" height="3.29" fill="#6464bc"/>
<rect x="89.6" y="409.58" width="8.55" height="3.29" fill="#ede49c"/>
<rect x="97.8" y="409.58" width="8.55" height="3.29" fill="#ede49c"/>
<rect x="32.2" y="412.52" width="8.55" height="3.29" fill="#d9d0a6"/>
<rect x="40.4" y="412.52" width="8.55" height="3.29" fill="#ede49c"/>
<rect x="56.8" y="412.52" width="8.55" height="3.29" fill="#ede49c"/>
<rect x="73.2" y="412.52" width="8.55" height="3.29" fill="#9c9cd6"/>
<rect x="97.8" y="412.52" width="8.55" height="3.29" fill="#d9d0a6"/>
<rect x="24" y="415.46" width="8.55" height="3.29" fill="#d9d0a6"/>
<rect x="40.4" y="415.46" width="8.55" height="3.29" fill="#32298a"/>
<rect x="56.8" y="415.46" width="8.55" height="3.29" fill="#32298a"/>
<rect x="81.4" y="415.46" width="8.55" height="3.29" fill="#ede49c"/>
<rect x="89.6" y="415.46" width="8.55" height="3.29" fill="#d9d0a6"/>
<rect x="97.8" y="415.46" width="8.55" height="3.29" fill="#d9d0a6"/>
<rect x="32.2" y="418.4" width="8.55" height="3.29" fill="#32298a"/>
<rect x="89.6" y="418.4" width="8.55" height="3.29" fill="#d9d0a6"/>
<rect x="32.2" y="421.34" width="8.55" height="3.29" fill="#ede49c"/>
<rect x="40.4" y="421.34" width="8.55" height="3.29" fill="#32298a"/>
<rect x="48.6" y="421.34" width="8.55" height="3.29" fill="#46287c"/>
<rect x="56.8" y="421.34" width="8.55" height="3.29" fill="#bcb8b8"/>
<rect x="65" y="421.34" width="8.55" height="3.29" fill="#32298a"/>
<rect x="81.4" y="421.34" width="8.55" height="3.29" fill="#d9d0a6"/>
<rect x="89.6" y="421.34" width="8.55" height="3.29" fill="#ede49c"/>
<rect x="97.8" y="421.34" width="8.55" height="3.29" fill="#9c9cd6"/>
<rect x="106" y="421.34" width="8.55" height="3.29" fill="#2a2222"/>
<rect x="114.2" y="421.34" width="8.2" height="3.29" fill="#8a2a28"/>
<rect x="32.2" y="424.28" width="8.55" height="3.29" fill="#ede49c"/>
<rect x="40.4" y="424.28" width="8.55" height="3.29" fill="#32298a"/>
<rect x="48.6" y="424.28" width="8.55" height="3.29" fill="#32298a"/>
<rect x="56.8" y="424.28" width="8.55" height="3.29" fill="#d9d0a6"/>
<rect x="65" y="424.28" width="8.55" height="3.29" fill="#32298a"/>
<rect x="97.8" y="424.28" width="8.55" height="3.29" fill="#32298a"/>
<rect x="106" y="424.28" width="8.55" height="3.29" fill="#f4f0d0"/>
<rect x="114.2" y="424.28" width="8.2" height="3.29" fill="#8a2a28"/>
<rect x="24" y="427.22" width="8.55" height="3.29" fill="#ede49c"/>
<rect x="32.2" y="427.22" width="8.55" height="3.29" fill="#bcb8b8"/>
<rect x="40.4" y="427.22" width="8.55" height="3.29" fill="#6464bc"/>
<rect x="48.6" y="427.22" width="8.55" height="3.29" fill="#d9d0a6"/>
<rect x="56.8" y="427.22" width="8.55" height="3.29" fill="#32298a"/>
<rect x="65" y="427.22" width="8.55" height="3.29" fill="#32298a"/>
<rect x="73.2" y="427.22" width="8.55" height="3.29" fill="#32298a"/>
<rect x="81.4" y="427.22" width="8.55" height="3.29" fill="#d9d0a6"/>
<rect x="89.6" y="427.22" width="8.55" height="3.29" fill="#ede49c"/>
<rect x="106" y="427.22" width="8.55" height="3.29" fill="#6e1c22"/>
<rect x="114.2" y="427.22" width="8.2" height="3.29" fill="#2a2222"/>
<rect x="32.2" y="430.16" width="8.55" height="3.29" fill="#d9d0a6"/>
<rect x="40.4" y="430.16" width="8.55" height="3.29" fill="#bcb8b8"/>
<rect x="48.6" y="430.16" width="8.55" height="3.29" fill="#d9d0a6"/>
<rect x="56.8" y="430.16" width="8.55" height="3.29" fill="#32298a"/>
<rect x="65" y="430.16" width="8.55" height="3.29" fill="#32298a"/>
<rect x="73.2" y="430.16" width="8.55" height="3.29" fill="#32298a"/>
<rect x="89.6" y="430.16" width="8.55" height="3.29" fill="#ede49c"/>
<rect x="106" y="430.16" width="8.55" height="3.29" fill="#bcb8b8"/>
<rect x="114.2" y="430.16" width="8.2" height="3.29" fill="#2a2222"/>
<rect x="40.4" y="433.1" width="8.55" height="3.29" fill="#d9d0a6"/>
<rect x="73.2" y="433.1" width="8.55" height="3.29" fill="#d9d0a6"/>
<rect x="114.2" y="433.1" width="8.2" height="3.29" fill="#ede49c"/>
<rect x="32.2" y="436.04" width="8.55" height="3.29" fill="#ede49c"/>
<rect x="73.2" y="436.04" width="8.55" height="3.29" fill="#d9d0a6"/>
<rect x="114.2" y="436.04" width="8.2" height="3.29" fill="#ede49c"/>
<rect x="56.8" y="438.98" width="8.55" height="3.29" fill="#d9d0a6"/>
<rect x="114.2" y="438.98" width="8.2" height="3.29" fill="#ede49c"/>
<rect x="24" y="441.92" width="8.55" height="3.29" fill="#d9d0a6"/>
<rect x="32.2" y="441.92" width="8.55" height="3.29" fill="#32298a"/>
<rect x="40.4" y="441.92" width="8.55" height="3.29" fill="#6464bc"/>
<rect x="48.6" y="441.92" width="8.55" height="3.29" fill="#9c9cd6"/>
<rect x="56.8" y="441.92" width="8.55" height="3.29" fill="#9c9cd6"/>
<rect x="65" y="441.92" width="8.55" height="3.29" fill="#32298a"/>
<rect x="81.4" y="441.92" width="8.55" height="3.29" fill="#32298a"/>
<rect x="89.6" y="441.92" width="8.55" height="3.29" fill="#6464bc"/>
<rect x="97.8" y="441.92" width="8.55" height="3.29" fill="#9c9cd6"/>
<rect x="106" y="441.92" width="8.55" height="3.29" fill="#d9d0a6"/>
<rect x="114.2" y="441.92" width="8.2" height="3.29" fill="#d9d0a6"/>
<rect x="24" y="444.86" width="8.55" height="3.29" fill="#6464bc"/>
<rect x="40.4" y="444.86" width="8.55" height="3.29" fill="#32298a"/>
<rect x="48.6" y="444.86" width="8.55" height="3.29" fill="#d9d0a6"/>
<rect x="56.8" y="444.86" width="8.55" height="3.29" fill="#d9d0a6"/>
<rect x="65" y="444.86" width="8.55" height="3.29" fill="#d9d0a6"/>
<rect x="40.4" y="447.8" width="8.55" height="2.94" fill="#ede49c"/>
<rect x="32.2" y="453.04" width="8.55" height="3.29" fill="#ede49c"/>
<rect x="73.2" y="453.04" width="8.55" height="3.29" fill="#d9d0a6"/>
<rect x="81.4" y="453.04" width="8.55" height="3.29" fill="#ede49c"/>
<rect x="114.2" y="453.04" width="8.2" height="3.29" fill="#ede49c"/>
<rect x="56.8" y="455.98" width="8.55" height="2.94" fill="#d9d0a6"/>
<rect x="114.2" y="455.98" width="8.2" height="2.94" fill="#ede49c"/>
<rect x="125.4" y="321" width="8.55" height="3.29" fill="#d9d0a6"/>
<rect x="141.8" y="321" width="8.55" height="3.29" fill="#ede49c"/>
<rect x="158.2" y="321" width="8.2" height="3.29" fill="#32298a"/>
<rect x="125.4" y="323.94" width="8.55" height="2.94" fill="#bcb8b8"/>
<rect x="141.8" y="323.94" width="8.55" height="2.94" fill="#ede49c"/>
<rect x="158.2" y="323.94" width="8.2" height="2.94" fill="#32298a"/>
<rect x="125.4" y="329.18" width="8.55" height="3.29" fill="#9c9cd6"/>
<rect x="133.6" y="329.18" width="8.55" height="3.29" fill="#ede49c"/>
<rect x="141.8" y="329.18" width="8.55" height="3.29" fill="#d9d0a6"/>
<rect x="150" y="329.18" width="8.55" height="3.29" fill="#32298a"/>
<rect x="158.2" y="329.18" width="8.2" height="3.29" fill="#ede49c"/>
<rect x="133.6" y="332.12" width="8.55" height="3.29" fill="#ede49c"/>
<rect x="141.8" y="332.12" width="8.55" height="3.29" fill="#ede49c"/>
<rect x="158.2" y="332.12" width="8.2" height="3.29" fill="#32298a"/>
<rect x="125.4" y="335.06" width="8.55" height="2.94" fill="#32298a"/>
<rect x="133.6" y="335.06" width="8.55" height="2.94" fill="#d9d0a6"/>
<rect x="141.8" y="335.06" width="8.55" height="2.94" fill="#bcb8b8"/>
<rect x="150" y="335.06" width="8.55" height="2.94" fill="#32298a"/>
<rect x="158.2" y="335.06" width="8.2" height="2.94" fill="#d9d0a6"/>
<rect x="133.6" y="340.3" width="8.55" height="3.29" fill="#ede49c"/>
<rect x="133.6" y="346.18" width="8.55" height="3.29" fill="#ede49c"/>
<rect x="133.6" y="349.12" width="8.55" height="3.29" fill="#32298a"/>
<rect x="125.4" y="352.06" width="8.55" height="3.29" fill="#d9d0a6"/>
<rect x="141.8" y="352.06" width="8.55" height="3.29" fill="#ede49c"/>
<rect x="158.2" y="352.06" width="8.2" height="3.29" fill="#32298a"/>
<rect x="125.4" y="355" width="8.55" height="2.94" fill="#d9d0a6"/>
<rect x="141.8" y="355" width="8.55" height="2.94" fill="#ede49c"/>
<rect x="158.2" y="355" width="8.2" height="2.94" fill="#32298a"/>
<rect x="133.6" y="360.24" width="8.55" height="3.29" fill="#ede49c"/>
<rect x="125.4" y="363.18" width="8.55" height="3.29" fill="#ede49c"/>
<rect x="133.6" y="363.18" width="8.55" height="3.29" fill="#d9d0a6"/>
<rect x="150" y="363.18" width="8.55" height="3.29" fill="#ede49c"/>
<rect x="125.4" y="366.12" width="8.55" height="3.29" fill="#32298a"/>
<rect x="133.6" y="366.12" width="8.55" height="3.29" fill="#d9d0a6"/>
<rect x="141.8" y="366.12" width="8.55" height="3.29" fill="#bcb8b8"/>
<rect x="150" y="366.12" width="8.55" height="3.29" fill="#32298a"/>
<rect x="158.2" y="366.12" width="8.2" height="3.29" fill="#d9d0a6"/>
<rect x="133.6" y="372" width="8.55" height="3.29" fill="#d9d0a6"/>
<rect x="125.4" y="374.94" width="8.55" height="3.29" fill="#d9d0a6"/>
<rect x="141.8" y="374.94" width="8.55" height="3.29" fill="#ede49c"/>
<rect x="150" y="374.94" width="8.55" height="3.29" fill="#ede49c"/>
<rect x="158.2" y="374.94" width="8.2" height="3.29" fill="#32298a"/>
<rect x="125.4" y="377.88" width="8.55" height="3.29" fill="#bcb8b8"/>
<rect x="133.6" y="377.88" width="8.55" height="3.29" fill="#32298a"/>
<rect x="141.8" y="377.88" width="8.55" height="3.29" fill="#6464bc"/>
<rect x="150" y="377.88" width="8.55" height="3.29" fill="#6464bc"/>
<rect x="158.2" y="377.88" width="8.2" height="3.29" fill="#bcb8b8"/>
<rect x="125.4" y="380.82" width="8.55" height="3.29" fill="#32298a"/>
<rect x="133.6" y="380.82" width="8.55" height="3.29" fill="#bcb8b8"/>
<rect x="141.8" y="380.82" width="8.55" height="3.29" fill="#d9d0a6"/>
<rect x="150" y="380.82" width="8.55" height="3.29" fill="#d9d0a6"/>
<rect x="158.2" y="380.82" width="8.2" height="3.29" fill="#ede49c"/>
<rect x="133.6" y="386.7" width="8.55" height="3.29" fill="#d9d0a6"/>
<rect x="133.6" y="389.64" width="8.55" height="3.29" fill="#d9d0a6"/>
<rect x="125.4" y="392.58" width="8.55" height="3.29" fill="#d9d0a6"/>
<rect x="141.8" y="392.58" width="8.55" height="3.29" fill="#ede49c"/>
<rect x="158.2" y="392.58" width="8.2" height="3.29" fill="#32298a"/>
<rect x="125.4" y="395.52" width="8.55" height="3.29" fill="#d9d0a6"/>
<rect x="141.8" y="395.52" width="8.55" height="3.29" fill="#ede49c"/>
<rect x="158.2" y="395.52" width="8.2" height="3.29" fill="#6464bc"/>
<rect x="125.4" y="398.46" width="8.55" height="3.29" fill="#bcb8b8"/>
<rect x="158.2" y="398.46" width="8.2" height="3.29" fill="#32298a"/>
<rect x="133.6" y="406.64" width="8.55" height="3.29" fill="#32298a"/>
<rect x="133.6" y="409.58" width="8.55" height="3.29" fill="#d9d0a6"/>
<rect x="133.6" y="415.46" width="8.55" height="3.29" fill="#ede49c"/>
<rect x="141.8" y="415.46" width="8.55" height="3.29" fill="#d9d0a6"/>
<rect x="133.6" y="418.4" width="8.55" height="3.29" fill="#ede49c"/>
<rect x="133.6" y="421.34" width="8.55" height="3.29" fill="#ede49c"/>
<rect x="158.2" y="421.34" width="8.2" height="3.29" fill="#562a68"/>
<rect x="158.2" y="424.28" width="8.2" height="3.29" fill="#562a68"/>
<rect x="125.4" y="427.22" width="8.55" height="3.29" fill="#ede49c"/>
<rect x="133.6" y="427.22" width="8.55" height="3.29" fill="#bcb8b8"/>
<rect x="141.8" y="427.22" width="8.55" height="3.29" fill="#32298a"/>
<rect x="158.2" y="427.22" width="8.2" height="3.29" fill="#8a2a28"/>
<rect x="158.2" y="430.16" width="8.2" height="3.29" fill="#8a2a28"/>
<rect x="133.6" y="433.1" width="8.55" height="3.29" fill="#bcb8b8"/>
<rect x="125.4" y="441.92" width="8.55" height="3.29" fill="#9c9cd6"/>
<rect x="133.6" y="441.92" width="8.55" height="3.29" fill="#32298a"/>
<rect x="141.8" y="441.92" width="8.55" height="3.29" fill="#9c9cd6"/>
<rect x="150" y="441.92" width="8.55" height="3.29" fill="#32298a"/>
<rect x="158.2" y="441.92" width="8.2" height="3.29" fill="#d9d0a6"/>
<rect x="158.2" y="444.86" width="8.2" height="3.29" fill="#ede49c"/>
<rect x="133.6" y="453.04" width="8.55" height="3.29" fill="#ede49c"/>
<rect x="169.1" y="321" width="8.55" height="3.29" fill="#ede49c"/>
<rect x="177.3" y="321" width="8.55" height="3.29" fill="#d9d0a6"/>
<rect x="185.5" y="321" width="8.55" height="3.29" fill="#ede49c"/>
<rect x="193.7" y="321" width="8.55" height="3.29" fill="#32298a"/>
<rect x="210.1" y="321" width="8.55" height="3.29" fill="#ede49c"/>
<rect x="226.5" y="321" width="8.2" height="3.29" fill="#d9d0a6"/>
<rect x="169.1" y="323.94" width="8.55" height="2.94" fill="#ede49c"/>
<rect x="177.3" y="323.94" width="8.55" height="2.94" fill="#d9d0a6"/>
<rect x="185.5" y="323.94" width="8.55" height="2.94" fill="#ede49c"/>
<rect x="193.7" y="323.94" width="8.55" height="2.94" fill="#32298a"/>
<rect x="210.1" y="323.94" width="8.55" height="2.94" fill="#ede49c"/>
<rect x="226.5" y="323.94" width="8.2" height="2.94" fill="#d9d0a6"/>
<rect x="169.1" y="329.18" width="8.55" height="3.29" fill="#9c9cd6"/>
<rect x="177.3" y="329.18" width="8.55" height="3.29" fill="#d9d0a6"/>
<rect x="185.5" y="329.18" width="8.55" height="3.29" fill="#ede49c"/>
<rect x="193.7" y="329.18" width="8.55" height="3.29" fill="#32298a"/>
<rect x="201.9" y="329.18" width="8.55" height="3.29" fill="#32298a"/>
<rect x="210.1" y="329.18" width="8.55" height="3.29" fill="#6464bc"/>
<rect x="226.5" y="329.18" width="8.2" height="3.29" fill="#d9d0a6"/>
<rect x="193.7" y="332.12" width="8.55" height="3.29" fill="#bcb8b8"/>
<rect x="169.1" y="335.06" width="8.55" height="2.94" fill="#d9d0a6"/>
<rect x="177.3" y="335.06" width="8.55" height="2.94" fill="#46287c"/>
<rect x="185.5" y="335.06" width="8.55" height="2.94" fill="#d9d0a6"/>
<rect x="193.7" y="335.06" width="8.55" height="2.94" fill="#32298a"/>
<rect x="201.9" y="335.06" width="8.55" height="2.94" fill="#32298a"/>
<rect x="210.1" y="335.06" width="8.55" height="2.94" fill="#ede49c"/>
<rect x="218.3" y="335.06" width="8.55" height="2.94" fill="#ede49c"/>
<rect x="226.5" y="335.06" width="8.2" height="2.94" fill="#d9d0a6"/>
<rect x="169.1" y="340.3" width="8.55" height="3.29" fill="#561a44"/>
<rect x="193.7" y="340.3" width="8.55" height="3.29" fill="#32298a"/>
<rect x="210.1" y="340.3" width="8.55" height="3.29" fill="#d9d0a6"/>
<rect x="226.5" y="340.3" width="8.2" height="3.29" fill="#ede49c"/>
<rect x="177.3" y="343.24" width="8.55" height="3.29" fill="#32298a"/>
<rect x="226.5" y="343.24" width="8.2" height="3.29" fill="#bcb8b8"/>
<rect x="193.7" y="346.18" width="8.55" height="3.29" fill="#d9d0a6"/>
<rect x="210.1" y="346.18" width="8.55" height="3.29" fill="#bcb8b8"/>
<rect x="218.3" y="346.18" width="8.55" height="3.29" fill="#ede49c"/>
<rect x="226.5" y="346.18" width="8.2" height="3.29" fill="#ede49c"/>
<rect x="177.3" y="349.12" width="8.55" height="3.29" fill="#bcb8b8"/>
<rect x="193.7" y="349.12" width="8.55" height="3.29" fill="#9c9cd6"/>
<rect x="177.3" y="352.06" width="8.55" height="3.29" fill="#d9d0a6"/>
<rect x="193.7" y="352.06" width="8.55" height="3.29" fill="#32298a"/>
<rect x="226.5" y="352.06" width="8.2" height="3.29" fill="#d9d0a6"/>
<rect x="177.3" y="355" width="8.55" height="2.94" fill="#d9d0a6"/>
<rect x="193.7" y="355" width="8.55" height="2.94" fill="#32298a"/>
<rect x="226.5" y="355" width="8.2" height="2.94" fill="#ede49c"/>
<rect x="177.3" y="360.24" width="8.55" height="3.29" fill="#ede49c"/>
<rect x="185.5" y="360.24" width="8.55" height="3.29" fill="#ede49c"/>
<rect x="193.7" y="360.24" width="8.55" height="3.29" fill="#ede49c"/>
<rect x="201.9" y="360.24" width="8.55" height="3.29" fill="#ede49c"/>
<rect x="218.3" y="360.24" width="8.55" height="3.29" fill="#ede49c"/>
<rect x="169.1" y="363.18" width="8.55" height="3.29" fill="#ede49c"/>
<rect x="177.3" y="363.18" width="8.55" height="3.29" fill="#d9d0a6"/>
<rect x="185.5" y="363.18" width="8.55" height="3.29" fill="#ede49c"/>
<rect x="193.7" y="363.18" width="8.55" height="3.29" fill="#ede49c"/>
<rect x="201.9" y="363.18" width="8.55" height="3.29" fill="#bcb8b8"/>
<rect x="218.3" y="363.18" width="8.55" height="3.29" fill="#d9d0a6"/>
<rect x="226.5" y="363.18" width="8.2" height="3.29" fill="#ede49c"/>
<rect x="169.1" y="366.12" width="8.55" height="3.29" fill="#d9d0a6"/>
<rect x="177.3" y="366.12" width="8.55" height="3.29" fill="#46287c"/>
<rect x="185.5" y="366.12" width="8.55" height="3.29" fill="#ede49c"/>
<rect x="193.7" y="366.12" width="8.55" height="3.29" fill="#32298a"/>
<rect x="201.9" y="366.12" width="8.55" height="3.29" fill="#32298a"/>
<rect x="218.3" y="366.12" width="8.55" height="3.29" fill="#ede49c"/>
<rect x="226.5" y="366.12" width="8.2" height="3.29" fill="#d9d0a6"/>
<rect x="169.1" y="372" width="8.55" height="3.29" fill="#561a44"/>
<rect x="177.3" y="372" width="8.55" height="3.29" fill="#d9d0a6"/>
<rect x="185.5" y="372" width="8.55" height="3.29" fill="#ede49c"/>
<rect x="193.7" y="372" width="8.55" height="3.29" fill="#32298a"/>
<rect x="210.1" y="372" width="8.55" height="3.29" fill="#d9d0a6"/>
<rect x="226.5" y="372" width="8.2" height="3.29" fill="#ede49c"/>
<rect x="177.3" y="374.94" width="8.55" height="3.29" fill="#d9d0a6"/>
<rect x="193.7" y="374.94" width="8.55" height="3.29" fill="#d9d0a6"/>
<rect x="169.1" y="377.88" width="8.55" height="3.29" fill="#bcb8b8"/>
<rect x="177.3" y="377.88" width="8.55" height="3.29" fill="#32298a"/>
<rect x="185.5" y="377.88" width="8.55" height="3.29" fill="#46287c"/>
<rect x="193.7" y="377.88" width="8.55" height="3.29" fill="#32298a"/>
<rect x="201.9" y="377.88" width="8.55" height="3.29" fill="#32298a"/>
<rect x="218.3" y="377.88" width="8.55" height="3.29" fill="#32298a"/>
<rect x="226.5" y="377.88" width="8.2" height="3.29" fill="#32298a"/>
<rect x="169.1" y="380.82" width="8.55" height="3.29" fill="#d9d0a6"/>
<rect x="177.3" y="380.82" width="8.55" height="3.29" fill="#32298a"/>
<rect x="185.5" y="380.82" width="8.55" height="3.29" fill="#9c9cd6"/>
<rect x="193.7" y="380.82" width="8.55" height="3.29" fill="#32298a"/>
<rect x="201.9" y="380.82" width="8.55" height="3.29" fill="#32298a"/>
<rect x="218.3" y="380.82" width="8.55" height="3.29" fill="#32298a"/>
<rect x="226.5" y="380.82" width="8.2" height="3.29" fill="#ede49c"/>
<rect x="177.3" y="383.76" width="8.55" height="3.29" fill="#32298a"/>
<rect x="193.7" y="383.76" width="8.55" height="3.29" fill="#d9d0a6"/>
<rect x="226.5" y="383.76" width="8.2" height="3.29" fill="#bcb8b8"/>
<rect x="193.7" y="386.7" width="8.55" height="3.29" fill="#ede49c"/>
<rect x="210.1" y="386.7" width="8.55" height="3.29" fill="#bcb8b8"/>
<rect x="218.3" y="386.7" width="8.55" height="3.29" fill="#ede49c"/>
<rect x="226.5" y="386.7" width="8.2" height="3.29" fill="#ede49c"/>
<rect x="177.3" y="389.64" width="8.55" height="3.29" fill="#d9d0a6"/>
<rect x="193.7" y="389.64" width="8.55" height="3.29" fill="#9c9cd6"/>
<rect x="169.1" y="392.58" width="8.55" height="3.29" fill="#ede49c"/>
<rect x="177.3" y="392.58" width="8.55" height="3.29" fill="#d9d0a6"/>
<rect x="193.7" y="392.58" width="8.55" height="3.29" fill="#6464bc"/>
<rect x="226.5" y="392.58" width="8.2" height="3.29" fill="#d9d0a6"/>
<rect x="169.1" y="395.52" width="8.55" height="3.29" fill="#ede49c"/>
<rect x="177.3" y="395.52" width="8.55" height="3.29" fill="#d9d0a6"/>
<rect x="193.7" y="395.52" width="8.55" height="3.29" fill="#6464bc"/>
<rect x="226.5" y="395.52" width="8.2" height="3.29" fill="#d9d0a6"/>
<rect x="193.7" y="398.46" width="8.55" height="3.29" fill="#32298a"/>
<rect x="226.5" y="398.46" width="8.2" height="3.29" fill="#ede49c"/>
<rect x="193.7" y="401.4" width="8.55" height="2.94" fill="#d9d0a6"/>
<rect x="177.3" y="406.64" width="8.55" height="3.29" fill="#bcb8b8"/>
<rect x="193.7" y="406.64" width="8.55" height="3.29" fill="#9c9cd6"/>
<rect x="177.3" y="409.58" width="8.55" height="3.29" fill="#d9d0a6"/>
<rect x="193.7" y="409.58" width="8.55" height="3.29" fill="#bcb8b8"/>
<rect x="185.5" y="412.52" width="8.55" height="3.29" fill="#ede49c"/>
<rect x="185.5" y="415.46" width="8.55" height="3.29" fill="#ede49c"/>
<rect x="193.7" y="415.46" width="8.55" height="3.29" fill="#d9d0a6"/>
<rect x="210.1" y="415.46" width="8.55" height="3.29" fill="#ede49c"/>
<rect x="226.5" y="415.46" width="8.2" height="3.29" fill="#d9d0a6"/>
<rect x="185.5" y="418.4" width="8.55" height="3.29" fill="#ede49c"/>
<rect x="193.7" y="418.4" width="8.55" height="3.29" fill="#ede49c"/>
<rect x="169.1" y="421.34" width="8.55" height="3.29" fill="#d9d0a6"/>
<rect x="185.5" y="421.34" width="8.55" height="3.29" fill="#d9d0a6"/>
<rect x="193.7" y="421.34" width="8.55" height="3.29" fill="#32298a"/>
<rect x="210.1" y="421.34" width="8.55" height="3.29" fill="#ede49c"/>
<rect x="169.1" y="424.28" width="8.55" height="3.29" fill="#bcb8b8"/>
<rect x="177.3" y="424.28" width="8.55" height="3.29" fill="#32298a"/>
<rect x="185.5" y="424.28" width="8.55" height="3.29" fill="#bcb8b8"/>
<rect x="193.7" y="424.28" width="8.55" height="3.29" fill="#32298a"/>
<rect x="169.1" y="427.22" width="8.55" height="3.29" fill="#d9d0a6"/>
<rect x="177.3" y="427.22" width="8.55" height="3.29" fill="#9c9cd6"/>
<rect x="185.5" y="427.22" width="8.55" height="3.29" fill="#562a68"/>
<rect x="193.7" y="427.22" width="8.55" height="3.29" fill="#32298a"/>
<rect x="210.1" y="427.22" width="8.55" height="3.29" fill="#9c9cd6"/>
<rect x="218.3" y="427.22" width="8.55" height="3.29" fill="#6464bc"/>
<rect x="226.5" y="427.22" width="8.2" height="3.29" fill="#ede49c"/>
<rect x="169.1" y="430.16" width="8.55" height="3.29" fill="#32298a"/>
<rect x="177.3" y="430.16" width="8.55" height="3.29" fill="#d9d0a6"/>
<rect x="185.5" y="430.16" width="8.55" height="3.29" fill="#32298a"/>
<rect x="193.7" y="430.16" width="8.55" height="3.29" fill="#32298a"/>
<rect x="210.1" y="430.16" width="8.55" height="3.29" fill="#9c9cd6"/>
<rect x="218.3" y="430.16" width="8.55" height="3.29" fill="#d9d0a6"/>
<rect x="193.7" y="433.1" width="8.55" height="3.29" fill="#9c9cd6"/>
<rect x="226.5" y="433.1" width="8.2" height="3.29" fill="#ede49c"/>
<rect x="193.7" y="436.04" width="8.55" height="3.29" fill="#d9d0a6"/>
<rect x="177.3" y="438.98" width="8.55" height="3.29" fill="#32298a"/>
<rect x="193.7" y="438.98" width="8.55" height="3.29" fill="#ede49c"/>
<rect x="226.5" y="438.98" width="8.2" height="3.29" fill="#bcb8b8"/>
<rect x="169.1" y="441.92" width="8.55" height="3.29" fill="#d9d0a6"/>
<rect x="177.3" y="441.92" width="8.55" height="3.29" fill="#32298a"/>
<rect x="185.5" y="441.92" width="8.55" height="3.29" fill="#ede49c"/>
<rect x="193.7" y="441.92" width="8.55" height="3.29" fill="#32298a"/>
<rect x="201.9" y="441.92" width="8.55" height="3.29" fill="#6464bc"/>
<rect x="210.1" y="441.92" width="8.55" height="3.29" fill="#bcb8b8"/>
<rect x="218.3" y="441.92" width="8.55" height="3.29" fill="#32298a"/>
<rect x="226.5" y="441.92" width="8.2" height="3.29" fill="#32298a"/>
<rect x="193.7" y="444.86" width="8.55" height="3.29" fill="#d9d0a6"/>
<rect x="193.7" y="453.04" width="8.55" height="3.29" fill="#d9d0a6"/>
<rect x="177.3" y="455.98" width="8.55" height="2.94" fill="#32298a"/>
<rect x="193.7" y="455.98" width="8.55" height="2.94" fill="#d9d0a6"/>
<rect x="226.5" y="455.98" width="8.2" height="2.94" fill="#bcb8b8"/>
<rect x="237.7" y="321" width="8.55" height="3.29" fill="#32298a"/>
<rect x="254.1" y="321" width="8.55" height="3.29" fill="#ede49c"/>
<rect x="270.5" y="321" width="8.55" height="3.29" fill="#ede49c"/>
<rect x="286.9" y="321" width="8.55" height="3.29" fill="#ede49c"/>
<rect x="295.1" y="321" width="8.55" height="3.29" fill="#ede49c"/>
<rect x="303.3" y="321" width="8.55" height="3.29" fill="#d9d0a6"/>
<rect x="311.5" y="321" width="8.55" height="3.29" fill="#d9d0a6"/>
<rect x="319.7" y="321" width="8.2" height="3.29" fill="#d9d0a6"/>
<rect x="237.7" y="323.94" width="8.55" height="2.94" fill="#32298a"/>
<rect x="254.1" y="323.94" width="8.55" height="2.94" fill="#ede49c"/>
<rect x="270.5" y="323.94" width="8.55" height="2.94" fill="#ede49c"/>
<rect x="286.9" y="323.94" width="8.55" height="2.94" fill="#ede49c"/>
<rect x="303.3" y="323.94" width="8.55" height="2.94" fill="#ede49c"/>
<rect x="311.5" y="323.94" width="8.55" height="2.94" fill="#d9d0a6"/>
<rect x="254.1" y="329.18" width="8.55" height="3.29" fill="#ede49c"/>
<rect x="262.3" y="329.18" width="8.55" height="3.29" fill="#d9d0a6"/>
<rect x="270.5" y="329.18" width="8.55" height="3.29" fill="#d9d0a6"/>
<rect x="278.7" y="329.18" width="8.55" height="3.29" fill="#6464bc"/>
<rect x="295.1" y="329.18" width="8.55" height="3.29" fill="#bcb8b8"/>
<rect x="303.3" y="329.18" width="8.55" height="3.29" fill="#d9d0a6"/>
<rect x="311.5" y="329.18" width="8.55" height="3.29" fill="#ede49c"/>
<rect x="319.7" y="329.18" width="8.2" height="3.29" fill="#d9d0a6"/>
<rect x="237.7" y="332.12" width="8.55" height="3.29" fill="#32298a"/>
<rect x="295.1" y="332.12" width="8.55" height="3.29" fill="#d9d0a6"/>
<rect x="311.5" y="332.12" width="8.55" height="3.29" fill="#d9d0a6"/>
<rect x="319.7" y="332.12" width="8.2" height="3.29" fill="#bcb8b8"/>
<rect x="245.9" y="335.06" width="8.55" height="2.94" fill="#bcb8b8"/>
<rect x="254.1" y="335.06" width="8.55" height="2.94" fill="#32298a"/>
<rect x="262.3" y="335.06" width="8.55" height="2.94" fill="#32298a"/>
<rect x="270.5" y="335.06" width="8.55" height="2.94" fill="#ede49c"/>
<rect x="278.7" y="335.06" width="8.55" height="2.94" fill="#9c9cd6"/>
<rect x="286.9" y="335.06" width="8.55" height="2.94" fill="#d9d0a6"/>
<rect x="295.1" y="335.06" width="8.55" height="2.94" fill="#6464bc"/>
<rect x="303.3" y="335.06" width="8.55" height="2.94" fill="#32298a"/>
<rect x="311.5" y="335.06" width="8.55" height="2.94" fill="#32298a"/>
<rect x="319.7" y="335.06" width="8.2" height="2.94" fill="#32298a"/>
<rect x="254.1" y="340.3" width="8.55" height="3.29" fill="#ede49c"/>
<rect x="262.3" y="340.3" width="8.55" height="3.29" fill="#ede49c"/>
<rect x="270.5" y="340.3" width="8.55" height="3.29" fill="#d9d0a6"/>
<rect x="286.9" y="340.3" width="8.55" height="3.29" fill="#ede49c"/>
<rect x="295.1" y="340.3" width="8.55" height="3.29" fill="#ede49c"/>
<rect x="303.3" y="340.3" width="8.55" height="3.29" fill="#ede49c"/>
<rect x="311.5" y="340.3" width="8.55" height="3.29" fill="#d9d0a6"/>
<rect x="319.7" y="340.3" width="8.2" height="3.29" fill="#d9d0a6"/>
<rect x="254.1" y="343.24" width="8.55" height="3.29" fill="#ede49c"/>
<rect x="237.7" y="346.18" width="8.55" height="3.29" fill="#32298a"/>
<rect x="245.9" y="346.18" width="8.55" height="3.29" fill="#d9d0a6"/>
<rect x="254.1" y="346.18" width="8.55" height="3.29" fill="#ede49c"/>
<rect x="278.7" y="346.18" width="8.55" height="3.29" fill="#ede49c"/>
<rect x="295.1" y="346.18" width="8.55" height="3.29" fill="#d9d0a6"/>
<rect x="311.5" y="346.18" width="8.55" height="3.29" fill="#bcb8b8"/>
<rect x="319.7" y="346.18" width="8.2" height="3.29" fill="#d9d0a6"/>
<rect x="237.7" y="352.06" width="8.55" height="3.29" fill="#32298a"/>
<rect x="254.1" y="352.06" width="8.55" height="3.29" fill="#ede49c"/>
<rect x="270.5" y="352.06" width="8.55" height="3.29" fill="#ede49c"/>
<rect x="278.7" y="352.06" width="8.55" height="3.29" fill="#ede49c"/>
<rect x="286.9" y="352.06" width="8.55" height="3.29" fill="#ede49c"/>
<rect x="311.5" y="352.06" width="8.55" height="3.29" fill="#d9d0a6"/>
<rect x="319.7" y="352.06" width="8.2" height="3.29" fill="#ede49c"/>
<rect x="237.7" y="355" width="8.55" height="2.94" fill="#32298a"/>
<rect x="254.1" y="355" width="8.55" height="2.94" fill="#ede49c"/>
<rect x="270.5" y="355" width="8.55" height="2.94" fill="#ede49c"/>
<rect x="303.3" y="355" width="8.55" height="2.94" fill="#ede49c"/>
<rect x="311.5" y="355" width="8.55" height="2.94" fill="#d9d0a6"/>
<rect x="319.7" y="355" width="8.2" height="2.94" fill="#ede49c"/>
<rect x="286.9" y="360.24" width="8.55" height="3.29" fill="#ede49c"/>
<rect x="303.3" y="360.24" width="8.55" height="3.29" fill="#d9d0a6"/>
<rect x="237.7" y="363.18" width="8.55" height="3.29" fill="#d9d0a6"/>
<rect x="245.9" y="363.18" width="8.55" height="3.29" fill="#ede49c"/>
<rect x="254.1" y="363.18" width="8.55" height="3.29" fill="#32298a"/>
<rect x="262.3" y="363.18" width="8.55" height="3.29" fill="#bcb8b8"/>
<rect x="278.7" y="363.18" width="8.55" height="3.29" fill="#6464bc"/>
<rect x="286.9" y="363.18" width="8.55" height="3.29" fill="#ede49c"/>
<rect x="295.1" y="363.18" width="8.55" height="3.29" fill="#9c9cd6"/>
<rect x="303.3" y="363.18" width="8.55" height="3.29" fill="#bcb8b8"/>
<rect x="311.5" y="363.18" width="8.55" height="3.29" fill="#bcb8b8"/>
<rect x="319.7" y="363.18" width="8.2" height="3.29" fill="#32298a"/>
<rect x="237.7" y="366.12" width="8.55" height="3.29" fill="#ede49c"/>
<rect x="245.9" y="366.12" width="8.55" height="3.29" fill="#bcb8b8"/>
<rect x="254.1" y="366.12" width="8.55" height="3.29" fill="#32298a"/>
<rect x="262.3" y="366.12" width="8.55" height="3.29" fill="#32298a"/>
<rect x="270.5" y="366.12" width="8.55" height="3.29" fill="#d9d0a6"/>
<rect x="278.7" y="366.12" width="8.55" height="3.29" fill="#9c9cd6"/>
<rect x="286.9" y="366.12" width="8.55" height="3.29" fill="#d9d0a6"/>
<rect x="295.1" y="366.12" width="8.55" height="3.29" fill="#6464bc"/>
<rect x="303.3" y="366.12" width="8.55" height="3.29" fill="#32298a"/>
<rect x="311.5" y="366.12" width="8.55" height="3.29" fill="#32298a"/>
<rect x="319.7" y="366.12" width="8.2" height="3.29" fill="#32298a"/>
<rect x="237.7" y="369.06" width="8.55" height="3.29" fill="#ede49c"/>
<rect x="286.9" y="369.06" width="8.55" height="3.29" fill="#ede49c"/>
<rect x="295.1" y="369.06" width="8.55" height="3.29" fill="#ede49c"/>
<rect x="303.3" y="369.06" width="8.55" height="3.29" fill="#ede49c"/>
<rect x="311.5" y="369.06" width="8.55" height="3.29" fill="#ede49c"/>
<rect x="319.7" y="369.06" width="8.2" height="3.29" fill="#ede49c"/>
<rect x="254.1" y="372" width="8.55" height="3.29" fill="#d9d0a6"/>
<rect x="262.3" y="372" width="8.55" height="3.29" fill="#ede49c"/>
<rect x="270.5" y="372" width="8.55" height="3.29" fill="#d9d0a6"/>
<rect x="286.9" y="372" width="8.55" height="3.29" fill="#d9d0a6"/>
<rect x="295.1" y="372" width="8.55" height="3.29" fill="#ede49c"/>
<rect x="303.3" y="372" width="8.55" height="3.29" fill="#ede49c"/>
<rect x="311.5" y="372" width="8.55" height="3.29" fill="#ede49c"/>
<rect x="319.7" y="372" width="8.2" height="3.29" fill="#d9d0a6"/>
<rect x="237.7" y="374.94" width="8.55" height="3.29" fill="#32298a"/>
<rect x="286.9" y="374.94" width="8.55" height="3.29" fill="#ede49c"/>
<rect x="295.1" y="374.94" width="8.55" height="3.29" fill="#ede49c"/>
<rect x="303.3" y="374.94" width="8.55" height="3.29" fill="#ede49c"/>
<rect x="311.5" y="374.94" width="8.55" height="3.29" fill="#d9d0a6"/>
<rect x="237.7" y="377.88" width="8.55" height="3.29" fill="#bcb8b8"/>
<rect x="245.9" y="377.88" width="8.55" height="3.29" fill="#32298a"/>
<rect x="254.1" y="377.88" width="8.55" height="3.29" fill="#46287c"/>
<rect x="262.3" y="377.88" width="8.55" height="3.29" fill="#32298a"/>
<rect x="270.5" y="377.88" width="8.55" height="3.29" fill="#d9d0a6"/>
<rect x="278.7" y="377.88" width="8.55" height="3.29" fill="#32298a"/>
<rect x="286.9" y="377.88" width="8.55" height="3.29" fill="#9c9cd6"/>
<rect x="295.1" y="377.88" width="8.55" height="3.29" fill="#d9d0a6"/>
<rect x="303.3" y="377.88" width="8.55" height="3.29" fill="#ede49c"/>
<rect x="311.5" y="377.88" width="8.55" height="3.29" fill="#6464bc"/>
<rect x="319.7" y="377.88" width="8.2" height="3.29" fill="#d9d0a6"/>
<rect x="237.7" y="380.82" width="8.55" height="3.29" fill="#d9d0a6"/>
<rect x="245.9" y="380.82" width="8.55" height="3.29" fill="#32298a"/>
<rect x="254.1" y="380.82" width="8.55" height="3.29" fill="#32298a"/>
<rect x="262.3" y="380.82" width="8.55" height="3.29" fill="#32298a"/>
<rect x="270.5" y="380.82" width="8.55" height="3.29" fill="#d9d0a6"/>
<rect x="278.7" y="380.82" width="8.55" height="3.29" fill="#32298a"/>
<rect x="286.9" y="380.82" width="8.55" height="3.29" fill="#d9d0a6"/>
<rect x="295.1" y="380.82" width="8.55" height="3.29" fill="#d9d0a6"/>
<rect x="303.3" y="380.82" width="8.55" height="3.29" fill="#ede49c"/>
<rect x="311.5" y="380.82" width="8.55" height="3.29" fill="#d9d0a6"/>
<rect x="319.7" y="380.82" width="8.2" height="3.29" fill="#d9d0a6"/>
<rect x="254.1" y="383.76" width="8.55" height="3.29" fill="#ede49c"/>
<rect x="286.9" y="383.76" width="8.55" height="3.29" fill="#ede49c"/>
<rect x="295.1" y="383.76" width="8.55" height="3.29" fill="#ede49c"/>
<rect x="303.3" y="383.76" width="8.55" height="3.29" fill="#ede49c"/>
<rect x="311.5" y="383.76" width="8.55" height="3.29" fill="#ede49c"/>
<rect x="319.7" y="383.76" width="8.2" height="3.29" fill="#ede49c"/>
<rect x="237.7" y="386.7" width="8.55" height="3.29" fill="#32298a"/>
<rect x="245.9" y="386.7" width="8.55" height="3.29" fill="#d9d0a6"/>
<rect x="254.1" y="386.7" width="8.55" height="3.29" fill="#ede49c"/>
<rect x="278.7" y="386.7" width="8.55" height="3.29" fill="#ede49c"/>
<rect x="286.9" y="386.7" width="8.55" height="3.29" fill="#ede49c"/>
<rect x="295.1" y="386.7" width="8.55" height="3.29" fill="#d9d0a6"/>
<rect x="303.3" y="386.7" width="8.55" height="3.29" fill="#ede49c"/>
<rect x="311.5" y="386.7" width="8.55" height="3.29" fill="#bcb8b8"/>
<rect x="319.7" y="386.7" width="8.2" height="3.29" fill="#d9d0a6"/>
<rect x="237.7" y="389.64" width="8.55" height="3.29" fill="#32298a"/>
<rect x="286.9" y="389.64" width="8.55" height="3.29" fill="#ede49c"/>
<rect x="303.3" y="389.64" width="8.55" height="3.29" fill="#d9d0a6"/>
<rect x="237.7" y="392.58" width="8.55" height="3.29" fill="#32298a"/>
<rect x="254.1" y="392.58" width="8.55" height="3.29" fill="#ede49c"/>
<rect x="270.5" y="392.58" width="8.55" height="3.29" fill="#ede49c"/>
<rect x="286.9" y="392.58" width="8.55" height="3.29" fill="#ede49c"/>
<rect x="303.3" y="392.58" width="8.55" height="3.29" fill="#d9d0a6"/>
<rect x="311.5" y="392.58" width="8.55" height="3.29" fill="#d9d0a6"/>
<rect x="319.7" y="392.58" width="8.2" height="3.29" fill="#d9d0a6"/>
<rect x="237.7" y="395.52" width="8.55" height="3.29" fill="#32298a"/>
<rect x="254.1" y="395.52" width="8.55" height="3.29" fill="#ede49c"/>
<rect x="270.5" y="395.52" width="8.55" height="3.29" fill="#ede49c"/>
<rect x="278.7" y="395.52" width="8.55" height="3.29" fill="#6464bc"/>
<rect x="286.9" y="395.52" width="8.55" height="3.29" fill="#ede49c"/>
<rect x="303.3" y="395.52" width="8.55" height="3.29" fill="#d9d0a6"/>
<rect x="311.5" y="395.52" width="8.55" height="3.29" fill="#d9d0a6"/>
<rect x="319.7" y="395.52" width="8.2" height="3.29" fill="#d9d0a6"/>
<rect x="237.7" y="398.46" width="8.55" height="3.29" fill="#32298a"/>
<rect x="254.1" y="398.46" width="8.55" height="3.29" fill="#ede49c"/>
<rect x="270.5" y="398.46" width="8.55" height="3.29" fill="#ede49c"/>
<rect x="286.9" y="398.46" width="8.55" height="3.29" fill="#d9d0a6"/>
<rect x="303.3" y="398.46" width="8.55" height="3.29" fill="#ede49c"/>
<rect x="311.5" y="398.46" width="8.55" height="3.29" fill="#d9d0a6"/>
<rect x="319.7" y="398.46" width="8.2" height="3.29" fill="#ede49c"/>
<rect x="254.1" y="401.4" width="8.55" height="2.94" fill="#bcb8b8"/>
<rect x="303.3" y="406.64" width="8.55" height="3.29" fill="#ede49c"/>
<rect x="237.7" y="409.58" width="8.55" height="3.29" fill="#32298a"/>
<rect x="303.3" y="409.58" width="8.55" height="3.29" fill="#d9d0a6"/>
<rect x="311.5" y="409.58" width="8.55" height="3.29" fill="#ede49c"/>
<rect x="254.1" y="412.52" width="8.55" height="3.29" fill="#ede49c"/>
<rect x="278.7" y="412.52" width="8.55" height="3.29" fill="#d9d0a6"/>
<rect x="237.7" y="415.46" width="8.55" height="3.29" fill="#32298a"/>
<rect x="254.1" y="415.46" width="8.55" height="3.29" fill="#ede49c"/>
<rect x="295.1" y="415.46" width="8.55" height="3.29" fill="#ede49c"/>
<rect x="303.3" y="415.46" width="8.55" height="3.29" fill="#ede49c"/>
<rect x="311.5" y="415.46" width="8.55" height="3.29" fill="#d9d0a6"/>
<rect x="254.1" y="418.4" width="8.55" height="3.29" fill="#ede49c"/>
<rect x="286.9" y="418.4" width="8.55" height="3.29" fill="#ede49c"/>
<rect x="303.3" y="418.4" width="8.55" height="3.29" fill="#ede49c"/>
<rect x="237.7" y="421.34" width="8.55" height="3.29" fill="#d9d0a6"/>
<rect x="245.9" y="421.34" width="8.55" height="3.29" fill="#d9d0a6"/>
<rect x="254.1" y="421.34" width="8.55" height="3.29" fill="#ede49c"/>
<rect x="262.3" y="421.34" width="8.55" height="3.29" fill="#32298a"/>
<rect x="270.5" y="421.34" width="8.55" height="3.29" fill="#32298a"/>
<rect x="303.3" y="421.34" width="8.55" height="3.29" fill="#bcb8b8"/>
<rect x="237.7" y="424.28" width="8.55" height="3.29" fill="#ede49c"/>
<rect x="245.9" y="424.28" width="8.55" height="3.29" fill="#d9d0a6"/>
<rect x="254.1" y="424.28" width="8.55" height="3.29" fill="#ede49c"/>
<rect x="262.3" y="424.28" width="8.55" height="3.29" fill="#562a68"/>
<rect x="270.5" y="424.28" width="8.55" height="3.29" fill="#bcb8b8"/>
<rect x="303.3" y="424.28" width="8.55" height="3.29" fill="#32298a"/>
<rect x="311.5" y="424.28" width="8.55" height="3.29" fill="#ede49c"/>
<rect x="319.7" y="424.28" width="8.2" height="3.29" fill="#d9d0a6"/>
<rect x="254.1" y="427.22" width="8.55" height="3.29" fill="#d9d0a6"/>
<rect x="262.3" y="427.22" width="8.55" height="3.29" fill="#32298a"/>
<rect x="270.5" y="427.22" width="8.55" height="3.29" fill="#d9d0a6"/>
<rect x="278.7" y="427.22" width="8.55" height="3.29" fill="#d9d0a6"/>
<rect x="303.3" y="427.22" width="8.55" height="3.29" fill="#ede49c"/>
<rect x="311.5" y="427.22" width="8.55" height="3.29" fill="#ede49c"/>
<rect x="319.7" y="427.22" width="8.2" height="3.29" fill="#d9d0a6"/>
<rect x="254.1" y="430.16" width="8.55" height="3.29" fill="#d9d0a6"/>
<rect x="262.3" y="430.16" width="8.55" height="3.29" fill="#9c9cd6"/>
<rect x="278.7" y="430.16" width="8.55" height="3.29" fill="#d9d0a6"/>
<rect x="311.5" y="430.16" width="8.55" height="3.29" fill="#ede49c"/>
<rect x="319.7" y="430.16" width="8.2" height="3.29" fill="#d9d0a6"/>
<rect x="254.1" y="433.1" width="8.55" height="3.29" fill="#d9d0a6"/>
<rect x="237.7" y="436.04" width="8.55" height="3.29" fill="#ede49c"/>
<rect x="254.1" y="436.04" width="8.55" height="3.29" fill="#d9d0a6"/>
<rect x="278.7" y="436.04" width="8.55" height="3.29" fill="#ede49c"/>
<rect x="286.9" y="436.04" width="8.55" height="3.29" fill="#ede49c"/>
<rect x="303.3" y="436.04" width="8.55" height="3.29" fill="#ede49c"/>
<rect x="311.5" y="436.04" width="8.55" height="3.29" fill="#d9d0a6"/>
<rect x="319.7" y="436.04" width="8.2" height="3.29" fill="#ede49c"/>
<rect x="254.1" y="438.98" width="8.55" height="3.29" fill="#ede49c"/>
<rect x="237.7" y="441.92" width="8.55" height="3.29" fill="#6464bc"/>
<rect x="245.9" y="441.92" width="8.55" height="3.29" fill="#32298a"/>
<rect x="254.1" y="441.92" width="8.55" height="3.29" fill="#d9d0a6"/>
<rect x="262.3" y="441.92" width="8.55" height="3.29" fill="#32298a"/>
<rect x="270.5" y="441.92" width="8.55" height="3.29" fill="#32298a"/>
<rect x="278.7" y="441.92" width="8.55" height="3.29" fill="#32298a"/>
<rect x="286.9" y="441.92" width="8.55" height="3.29" fill="#6464bc"/>
<rect x="295.1" y="441.92" width="8.55" height="3.29" fill="#9c9cd6"/>
<rect x="303.3" y="441.92" width="8.55" height="3.29" fill="#32298a"/>
<rect x="311.5" y="441.92" width="8.55" height="3.29" fill="#32298a"/>
<rect x="319.7" y="441.92" width="8.2" height="3.29" fill="#32298a"/>
<rect x="237.7" y="444.86" width="8.55" height="3.29" fill="#d9d0a6"/>
<rect x="245.9" y="444.86" width="8.55" height="3.29" fill="#d9d0a6"/>
<rect x="270.5" y="444.86" width="8.55" height="3.29" fill="#ede49c"/>
<rect x="295.1" y="444.86" width="8.55" height="3.29" fill="#d9d0a6"/>
<rect x="303.3" y="444.86" width="8.55" height="3.29" fill="#ede49c"/>
<rect x="319.7" y="444.86" width="8.2" height="3.29" fill="#ede49c"/>
<rect x="237.7" y="447.8" width="8.55" height="2.94" fill="#ede49c"/>
<rect x="270.5" y="447.8" width="8.55" height="2.94" fill="#ede49c"/>
<rect x="237.7" y="453.04" width="8.55" height="3.29" fill="#ede49c"/>
<rect x="254.1" y="453.04" width="8.55" height="3.29" fill="#d9d0a6"/>
<rect x="311.5" y="453.04" width="8.55" height="3.29" fill="#d9d0a6"/>
<rect x="237.7" y="455.98" width="8.55" height="2.94" fill="#ede49c"/>
<rect x="254.1" y="455.98" width="8.55" height="2.94" fill="#ede49c"/>
<rect x="330.9" y="321" width="8.55" height="3.29" fill="#ede49c"/>
<rect x="347.3" y="321" width="8.55" height="3.29" fill="#d9d0a6"/>
<rect x="355.5" y="321" width="8.55" height="3.29" fill="#ede49c"/>
<rect x="363.7" y="321" width="8.55" height="3.29" fill="#d9d0a6"/>
<rect x="371.9" y="321" width="8.55" height="3.29" fill="#ede49c"/>
<rect x="380.1" y="321" width="8.55" height="3.29" fill="#ede49c"/>
<rect x="330.9" y="323.94" width="8.55" height="2.94" fill="#ede49c"/>
<rect x="347.3" y="323.94" width="8.55" height="2.94" fill="#ede49c"/>
<rect x="371.9" y="323.94" width="8.55" height="2.94" fill="#ede49c"/>
<rect x="380.1" y="323.94" width="8.55" height="2.94" fill="#d9d0a6"/>
<rect x="330.9" y="329.18" width="8.55" height="3.29" fill="#ede49c"/>
<rect x="339.1" y="329.18" width="8.55" height="3.29" fill="#ede49c"/>
<rect x="347.3" y="329.18" width="8.55" height="3.29" fill="#d9d0a6"/>
<rect x="355.5" y="329.18" width="8.55" height="3.29" fill="#bcb8b8"/>
<rect x="363.7" y="329.18" width="8.55" height="3.29" fill="#ede49c"/>
<rect x="371.9" y="329.18" width="8.55" height="3.29" fill="#ede49c"/>
<rect x="380.1" y="329.18" width="8.55" height="3.29" fill="#d9d0a6"/>
<rect x="388.3" y="329.18" width="8.55" height="3.29" fill="#bcb8b8"/>
<rect x="396.5" y="329.18" width="8.55" height="3.29" fill="#ede49c"/>
<rect x="404.7" y="329.18" width="8.55" height="3.29" fill="#ede49c"/>
<rect x="412.9" y="329.18" width="8.55" height="3.29" fill="#32298a"/>
<rect x="421.1" y="329.18" width="8.2" height="3.29" fill="#9c9cd6"/>
<rect x="347.3" y="332.12" width="8.55" height="3.29" fill="#d9d0a6"/>
<rect x="330.9" y="335.06" width="8.55" height="2.94" fill="#d9d0a6"/>
<rect x="339.1" y="335.06" width="8.55" height="2.94" fill="#d9d0a6"/>
<rect x="347.3" y="335.06" width="8.55" height="2.94" fill="#32298a"/>
<rect x="355.5" y="335.06" width="8.55" height="2.94" fill="#d9d0a6"/>
<rect x="363.7" y="335.06" width="8.55" height="2.94" fill="#ede49c"/>
<rect x="371.9" y="335.06" width="8.55" height="2.94" fill="#ede49c"/>
<rect x="380.1" y="335.06" width="8.55" height="2.94" fill="#32298a"/>
<rect x="388.3" y="335.06" width="8.55" height="2.94" fill="#ede49c"/>
<rect x="396.5" y="335.06" width="8.55" height="2.94" fill="#d9d0a6"/>
<rect x="404.7" y="335.06" width="8.55" height="2.94" fill="#ede49c"/>
<rect x="412.9" y="335.06" width="8.55" height="2.94" fill="#32298a"/>
<rect x="421.1" y="335.06" width="8.2" height="2.94" fill="#d9d0a6"/>
<rect x="339.1" y="340.3" width="8.55" height="3.29" fill="#d9d0a6"/>
<rect x="347.3" y="340.3" width="8.55" height="3.29" fill="#ede49c"/>
<rect x="355.5" y="340.3" width="8.55" height="3.29" fill="#d9d0a6"/>
<rect x="380.1" y="340.3" width="8.55" height="3.29" fill="#ede49c"/>
<rect x="396.5" y="340.3" width="8.55" height="3.29" fill="#ede49c"/>
<rect x="404.7" y="340.3" width="8.55" height="3.29" fill="#ede49c"/>
<rect x="412.9" y="340.3" width="8.55" height="3.29" fill="#d9d0a6"/>
<rect x="421.1" y="340.3" width="8.2" height="3.29" fill="#bcb8b8"/>
<rect x="347.3" y="343.24" width="8.55" height="3.29" fill="#ede49c"/>
<rect x="380.1" y="343.24" width="8.55" height="3.29" fill="#ede49c"/>
<rect x="330.9" y="346.18" width="8.55" height="3.29" fill="#ede49c"/>
<rect x="347.3" y="346.18" width="8.55" height="3.29" fill="#ede49c"/>
<rect x="355.5" y="346.18" width="8.55" height="3.29" fill="#d9d0a6"/>
<rect x="363.7" y="346.18" width="8.55" height="3.29" fill="#bcb8b8"/>
<rect x="380.1" y="346.18" width="8.55" height="3.29" fill="#ede49c"/>
<rect x="404.7" y="346.18" width="8.55" height="3.29" fill="#ede49c"/>
<rect x="330.9" y="349.12" width="8.55" height="3.29" fill="#ede49c"/>
<rect x="347.3" y="349.12" width="8.55" height="3.29" fill="#ede49c"/>
<rect x="412.9" y="349.12" width="8.55" height="3.29" fill="#d9d0a6"/>
<rect x="330.9" y="352.06" width="8.55" height="3.29" fill="#ede49c"/>
<rect x="347.3" y="352.06" width="8.55" height="3.29" fill="#ede49c"/>
<rect x="380.1" y="352.06" width="8.55" height="3.29" fill="#ede49c"/>
<rect x="330.9" y="355" width="8.55" height="2.94" fill="#ede49c"/>
<rect x="347.3" y="355" width="8.55" height="2.94" fill="#d9d0a6"/>
<rect x="363.7" y="355" width="8.55" height="2.94" fill="#d9d0a6"/>
<rect x="347.3" y="360.24" width="8.55" height="3.29" fill="#ede49c"/>
<rect x="380.1" y="360.24" width="8.55" height="3.29" fill="#ede49c"/>
<rect x="330.9" y="363.18" width="8.55" height="3.29" fill="#d9d0a6"/>
<rect x="339.1" y="363.18" width="8.55" height="3.29" fill="#ede49c"/>
<rect x="347.3" y="363.18" width="8.55" height="3.29" fill="#bcb8b8"/>
<rect x="355.5" y="363.18" width="8.55" height="3.29" fill="#ede49c"/>
<rect x="363.7" y="363.18" width="8.55" height="3.29" fill="#ede49c"/>
<rect x="388.3" y="363.18" width="8.55" height="3.29" fill="#9c9cd6"/>
<rect x="404.7" y="363.18" width="8.55" height="3.29" fill="#d9d0a6"/>
<rect x="412.9" y="363.18" width="8.55" height="3.29" fill="#6464bc"/>
<rect x="421.1" y="363.18" width="8.2" height="3.29" fill="#ede49c"/>
<rect x="330.9" y="366.12" width="8.55" height="3.29" fill="#ede49c"/>
<rect x="339.1" y="366.12" width="8.55" height="3.29" fill="#ede49c"/>
<rect x="347.3" y="366.12" width="8.55" height="3.29" fill="#32298a"/>
<rect x="355.5" y="366.12" width="8.55" height="3.29" fill="#d9d0a6"/>
<rect x="363.7" y="366.12" width="8.55" height="3.29" fill="#ede49c"/>
<rect x="380.1" y="366.12" width="8.55" height="3.29" fill="#32298a"/>
<rect x="388.3" y="366.12" width="8.55" height="3.29" fill="#ede49c"/>
<rect x="396.5" y="366.12" width="8.55" height="3.29" fill="#d9d0a6"/>
<rect x="404.7" y="366.12" width="8.55" height="3.29" fill="#ede49c"/>
<rect x="412.9" y="366.12" width="8.55" height="3.29" fill="#32298a"/>
<rect x="421.1" y="366.12" width="8.2" height="3.29" fill="#d9d0a6"/>
<rect x="339.1" y="372" width="8.55" height="3.29" fill="#d9d0a6"/>
<rect x="355.5" y="372" width="8.55" height="3.29" fill="#d9d0a6"/>
<rect x="380.1" y="372" width="8.55" height="3.29" fill="#ede49c"/>
<rect x="412.9" y="372" width="8.55" height="3.29" fill="#d9d0a6"/>
<rect x="421.1" y="372" width="8.2" height="3.29" fill="#d9d0a6"/>
<rect x="330.9" y="377.88" width="8.55" height="3.29" fill="#32298a"/>
<rect x="339.1" y="377.88" width="8.55" height="3.29" fill="#32298a"/>
<rect x="347.3" y="377.88" width="8.55" height="3.29" fill="#32298a"/>
<rect x="355.5" y="377.88" width="8.55" height="3.29" fill="#ede49c"/>
<rect x="371.9" y="377.88" width="8.55" height="3.29" fill="#d9d0a6"/>
<rect x="380.1" y="377.88" width="8.55" height="3.29" fill="#d9d0a6"/>
<rect x="388.3" y="377.88" width="8.55" height="3.29" fill="#ede49c"/>
<rect x="396.5" y="377.88" width="8.55" height="3.29" fill="#ede49c"/>
<rect x="404.7" y="377.88" width="8.55" height="3.29" fill="#d9d0a6"/>
<rect x="412.9" y="377.88" width="8.55" height="3.29" fill="#32298a"/>
<rect x="421.1" y="377.88" width="8.2" height="3.29" fill="#32298a"/>
<rect x="330.9" y="380.82" width="8.55" height="3.29" fill="#32298a"/>
<rect x="339.1" y="380.82" width="8.55" height="3.29" fill="#32298a"/>
<rect x="347.3" y="380.82" width="8.55" height="3.29" fill="#9c9cd6"/>
<rect x="355.5" y="380.82" width="8.55" height="3.29" fill="#ede49c"/>
<rect x="371.9" y="380.82" width="8.55" height="3.29" fill="#ede49c"/>
<rect x="380.1" y="380.82" width="8.55" height="3.29" fill="#ede49c"/>
<rect x="396.5" y="380.82" width="8.55" height="3.29" fill="#ede49c"/>
<rect x="404.7" y="380.82" width="8.55" height="3.29" fill="#ede49c"/>
<rect x="412.9" y="380.82" width="8.55" height="3.29" fill="#6464bc"/>
<rect x="421.1" y="380.82" width="8.2" height="3.29" fill="#6464bc"/>
<rect x="347.3" y="383.76" width="8.55" height="3.29" fill="#ede49c"/>
<rect x="380.1" y="383.76" width="8.55" height="3.29" fill="#ede49c"/>
<rect x="330.9" y="386.7" width="8.55" height="3.29" fill="#ede49c"/>
<rect x="347.3" y="386.7" width="8.55" height="3.29" fill="#ede49c"/>
<rect x="355.5" y="386.7" width="8.55" height="3.29" fill="#ede49c"/>
<rect x="363.7" y="386.7" width="8.55" height="3.29" fill="#d9d0a6"/>
<rect x="380.1" y="386.7" width="8.55" height="3.29" fill="#ede49c"/>
<rect x="404.7" y="386.7" width="8.55" height="3.29" fill="#ede49c"/>
<rect x="347.3" y="389.64" width="8.55" height="3.29" fill="#ede49c"/>
<rect x="355.5" y="389.64" width="8.55" height="3.29" fill="#ede49c"/>
<rect x="330.9" y="392.58" width="8.55" height="3.29" fill="#ede49c"/>
<rect x="347.3" y="392.58" width="8.55" height="3.29" fill="#d9d0a6"/>
<rect x="355.5" y="392.58" width="8.55" height="3.29" fill="#ede49c"/>
<rect x="363.7" y="392.58" width="8.55" height="3.29" fill="#d9d0a6"/>
<rect x="380.1" y="392.58" width="8.55" height="3.29" fill="#ede49c"/>
<rect x="396.5" y="392.58" width="8.55" height="3.29" fill="#ede49c"/>
<rect x="404.7" y="392.58" width="8.55" height="3.29" fill="#ede49c"/>
<rect x="347.3" y="395.52" width="8.55" height="3.29" fill="#ede49c"/>
<rect x="355.5" y="395.52" width="8.55" height="3.29" fill="#ede49c"/>
<rect x="380.1" y="395.52" width="8.55" height="3.29" fill="#ede49c"/>
<rect x="396.5" y="395.52" width="8.55" height="3.29" fill="#ede49c"/>
<rect x="404.7" y="395.52" width="8.55" height="3.29" fill="#ede49c"/>
<rect x="347.3" y="398.46" width="8.55" height="3.29" fill="#ede49c"/>
<rect x="380.1" y="398.46" width="8.55" height="3.29" fill="#ede49c"/>
<rect x="330.9" y="401.4" width="8.55" height="2.94" fill="#ede49c"/>
<rect x="371.9" y="401.4" width="8.55" height="2.94" fill="#ede49c"/>
<rect x="404.7" y="401.4" width="8.55" height="2.94" fill="#6464bc"/>
<rect x="347.3" y="406.64" width="8.55" height="3.29" fill="#ede49c"/>
<rect x="412.9" y="406.64" width="8.55" height="3.29" fill="#d9d0a6"/>
<rect x="347.3" y="409.58" width="8.55" height="3.29" fill="#d9d0a6"/>
<rect x="355.5" y="409.58" width="8.55" height="3.29" fill="#d9d0a6"/>
<rect x="330.9" y="412.52" width="8.55" height="3.29" fill="#ede49c"/>
<rect x="355.5" y="412.52" width="8.55" height="3.29" fill="#ede49c"/>
<rect x="396.5" y="412.52" width="8.55" height="3.29" fill="#ede49c"/>
<rect x="412.9" y="412.52" width="8.55" height="3.29" fill="#d9d0a6"/>
<rect x="330.9" y="415.46" width="8.55" height="3.29" fill="#ede49c"/>
<rect x="347.3" y="415.46" width="8.55" height="3.29" fill="#d9d0a6"/>
<rect x="355.5" y="415.46" width="8.55" height="3.29" fill="#ede49c"/>
<rect x="347.3" y="418.4" width="8.55" height="3.29" fill="#ede49c"/>
<rect x="355.5" y="418.4" width="8.55" height="3.29" fill="#d9d0a6"/>
<rect x="412.9" y="418.4" width="8.55" height="3.29" fill="#32298a"/>
<rect x="330.9" y="421.34" width="8.55" height="3.29" fill="#bcb8b8"/>
<rect x="355.5" y="421.34" width="8.55" height="3.29" fill="#ede49c"/>
<rect x="363.7" y="421.34" width="8.55" height="3.29" fill="#d9d0a6"/>
<rect x="380.1" y="421.34" width="8.55" height="3.29" fill="#9c9cd6"/>
<rect x="412.9" y="421.34" width="8.55" height="3.29" fill="#32298a"/>
<rect x="421.1" y="421.34" width="8.2" height="3.29" fill="#562a68"/>
<rect x="330.9" y="424.28" width="8.55" height="3.29" fill="#ede49c"/>
<rect x="347.3" y="424.28" width="8.55" height="3.29" fill="#ede49c"/>
<rect x="355.5" y="424.28" width="8.55" height="3.29" fill="#ede49c"/>
<rect x="363.7" y="424.28" width="8.55" height="3.29" fill="#d9d0a6"/>
<rect x="380.1" y="424.28" width="8.55" height="3.29" fill="#ede49c"/>
<rect x="396.5" y="424.28" width="8.55" height="3.29" fill="#ede49c"/>
<rect x="412.9" y="424.28" width="8.55" height="3.29" fill="#32298a"/>
<rect x="421.1" y="424.28" width="8.2" height="3.29" fill="#562a68"/>
<rect x="330.9" y="427.22" width="8.55" height="3.29" fill="#32298a"/>
<rect x="347.3" y="427.22" width="8.55" height="3.29" fill="#d9d0a6"/>
<rect x="355.5" y="427.22" width="8.55" height="3.29" fill="#d9d0a6"/>
<rect x="396.5" y="427.22" width="8.55" height="3.29" fill="#d9d0a6"/>
<rect x="404.7" y="427.22" width="8.55" height="3.29" fill="#ede49c"/>
<rect x="412.9" y="427.22" width="8.55" height="3.29" fill="#32298a"/>
<rect x="421.1" y="427.22" width="8.2" height="3.29" fill="#562a68"/>
<rect x="330.9" y="430.16" width="8.55" height="3.29" fill="#32298a"/>
<rect x="347.3" y="430.16" width="8.55" height="3.29" fill="#ede49c"/>
<rect x="355.5" y="430.16" width="8.55" height="3.29" fill="#d9d0a6"/>
<rect x="371.9" y="430.16" width="8.55" height="3.29" fill="#ede49c"/>
<rect x="396.5" y="430.16" width="8.55" height="3.29" fill="#ede49c"/>
<rect x="404.7" y="430.16" width="8.55" height="3.29" fill="#ede49c"/>
<rect x="412.9" y="430.16" width="8.55" height="3.29" fill="#562a68"/>
<rect x="421.1" y="430.16" width="8.2" height="3.29" fill="#562a68"/>
<rect x="347.3" y="433.1" width="8.55" height="3.29" fill="#ede49c"/>
<rect x="347.3" y="436.04" width="8.55" height="3.29" fill="#ede49c"/>
<rect x="355.5" y="436.04" width="8.55" height="3.29" fill="#ede49c"/>
<rect x="380.1" y="436.04" width="8.55" height="3.29" fill="#ede49c"/>
<rect x="396.5" y="436.04" width="8.55" height="3.29" fill="#ede49c"/>
<rect x="347.3" y="438.98" width="8.55" height="3.29" fill="#ede49c"/>
<rect x="330.9" y="441.92" width="8.55" height="3.29" fill="#32298a"/>
<rect x="339.1" y="441.92" width="8.55" height="3.29" fill="#d9d0a6"/>
<rect x="347.3" y="441.92" width="8.55" height="3.29" fill="#32298a"/>
<rect x="355.5" y="441.92" width="8.55" height="3.29" fill="#32298a"/>
<rect x="363.7" y="441.92" width="8.55" height="3.29" fill="#32298a"/>
<rect x="371.9" y="441.92" width="8.55" height="3.29" fill="#32298a"/>
<rect x="380.1" y="441.92" width="8.55" height="3.29" fill="#9c9cd6"/>
<rect x="388.3" y="441.92" width="8.55" height="3.29" fill="#ede49c"/>
<rect x="396.5" y="441.92" width="8.55" height="3.29" fill="#32298a"/>
<rect x="404.7" y="441.92" width="8.55" height="3.29" fill="#32298a"/>
<rect x="412.9" y="441.92" width="8.55" height="3.29" fill="#32298a"/>
<rect x="421.1" y="441.92" width="8.2" height="3.29" fill="#32298a"/>
<rect x="330.9" y="444.86" width="8.55" height="3.29" fill="#ede49c"/>
<rect x="339.1" y="444.86" width="8.55" height="3.29" fill="#bcb8b8"/>
<rect x="347.3" y="444.86" width="8.55" height="3.29" fill="#bcb8b8"/>
<rect x="396.5" y="444.86" width="8.55" height="3.29" fill="#ede49c"/>
<rect x="347.3" y="447.8" width="8.55" height="2.94" fill="#ede49c"/>
<rect x="421.1" y="447.8" width="8.2" height="2.94" fill="#d9d0a6"/>
<rect x="347.3" y="453.04" width="8.55" height="3.29" fill="#ede49c"/>
<rect x="355.5" y="453.04" width="8.55" height="3.29" fill="#ede49c"/>
<rect x="380.1" y="453.04" width="8.55" height="3.29" fill="#ede49c"/>
<rect x="347.3" y="455.98" width="8.55" height="2.94" fill="#ede49c"/>
<rect x="380.1" y="455.98" width="8.55" height="2.94" fill="#ede49c"/>
<rect x="432.5" y="321" width="8.55" height="3.29" fill="#ede49c"/>
<rect x="440.7" y="321" width="8.2" height="3.29" fill="#ede49c"/>
<rect x="432.5" y="323.94" width="8.55" height="2.94" fill="#ede49c"/>
<rect x="440.7" y="323.94" width="8.2" height="2.94" fill="#ede49c"/>
<rect x="432.5" y="335.06" width="8.55" height="2.94" fill="#d9d0a6"/>
<rect x="440.7" y="335.06" width="8.2" height="2.94" fill="#561a44"/>
<rect x="432.5" y="340.3" width="8.55" height="3.29" fill="#ede49c"/>
<rect x="432.5" y="343.24" width="8.55" height="3.29" fill="#ede49c"/>
<rect x="432.5" y="346.18" width="8.55" height="3.29" fill="#ede49c"/>
<rect x="440.7" y="346.18" width="8.2" height="3.29" fill="#bcb8b8"/>
<rect x="432.5" y="349.12" width="8.55" height="3.29" fill="#ede49c"/>
<rect x="432.5" y="352.06" width="8.55" height="3.29" fill="#ede49c"/>
<rect x="432.5" y="355" width="8.55" height="2.94" fill="#ede49c"/>
<rect x="432.5" y="360.24" width="8.55" height="3.29" fill="#ede49c"/>
<rect x="432.5" y="363.18" width="8.55" height="3.29" fill="#ede49c"/>
<rect x="432.5" y="366.12" width="8.55" height="3.29" fill="#d9d0a6"/>
<rect x="440.7" y="366.12" width="8.2" height="3.29" fill="#561a44"/>
<rect x="432.5" y="369.06" width="8.55" height="3.29" fill="#ede49c"/>
<rect x="432.5" y="372" width="8.55" height="3.29" fill="#ede49c"/>
<rect x="432.5" y="374.94" width="8.55" height="3.29" fill="#ede49c"/>
<rect x="432.5" y="377.88" width="8.55" height="3.29" fill="#d9d0a6"/>
<rect x="440.7" y="377.88" width="8.2" height="3.29" fill="#32298a"/>
<rect x="432.5" y="380.82" width="8.55" height="3.29" fill="#ede49c"/>
<rect x="440.7" y="380.82" width="8.2" height="3.29" fill="#ede49c"/>
<rect x="432.5" y="383.76" width="8.55" height="3.29" fill="#ede49c"/>
<rect x="432.5" y="386.7" width="8.55" height="3.29" fill="#ede49c"/>
<rect x="440.7" y="386.7" width="8.2" height="3.29" fill="#d9d0a6"/>
<rect x="432.5" y="389.64" width="8.55" height="3.29" fill="#ede49c"/>
<rect x="432.5" y="392.58" width="8.55" height="3.29" fill="#ede49c"/>
<rect x="432.5" y="395.52" width="8.55" height="3.29" fill="#ede49c"/>
<rect x="432.5" y="398.46" width="8.55" height="3.29" fill="#ede49c"/>
<rect x="432.5" y="401.4" width="8.55" height="2.94" fill="#ede49c"/>
<rect x="432.5" y="406.64" width="8.55" height="3.29" fill="#ede49c"/>
<rect x="432.5" y="409.58" width="8.55" height="3.29" fill="#ede49c"/>
<rect x="432.5" y="415.46" width="8.55" height="3.29" fill="#d9d0a6"/>
<rect x="432.5" y="427.22" width="8.55" height="3.29" fill="#d9d0a6"/>
<rect x="440.7" y="427.22" width="8.2" height="3.29" fill="#d9d0a6"/>
<rect x="432.5" y="430.16" width="8.55" height="3.29" fill="#ede49c"/>
<rect x="440.7" y="430.16" width="8.2" height="3.29" fill="#bcb8b8"/>
<rect x="432.5" y="433.1" width="8.55" height="3.29" fill="#ede49c"/>
<rect x="432.5" y="436.04" width="8.55" height="3.29" fill="#ede49c"/>
<rect x="432.5" y="441.92" width="8.55" height="3.29" fill="#32298a"/>
<rect x="440.7" y="441.92" width="8.2" height="3.29" fill="#32298a"/>
<rect x="432.5" y="444.86" width="8.55" height="3.29" fill="#ede49c"/>
<rect x="432.5" y="453.04" width="8.55" height="3.29" fill="#ede49c"/>
<rect x="432.5" y="455.98" width="8.55" height="2.94" fill="#ede49c"/>
<path d="M36.3 319.6V315H44.5V319.6" fill="none" stroke="#333" stroke-width="0.85"/>
<path d="M93.7 319.6V318.2H101.9V319.6" fill="none" stroke="#333" stroke-width="0.85"/>
<path d="M85.5 319.6V317.3H97.8V318.2" fill="none" stroke="#333" stroke-width="0.85"/>
<path d="M77.3 319.6V316.5H91.65V317.3" fill="none" stroke="#333" stroke-width="0.85"/>
<path d="M69.1 319.6V315.8H84.47V316.5" fill="none" stroke="#333" stroke-width="0.85"/>
<path d="M60.9 319.6V315H76.79V315.8" fill="none" stroke="#333" stroke-width="0.85"/>
<path d="M52.7 319.6V314H68.84V315" fill="none" stroke="#333" stroke-width="0.85"/>
<path d="M40.4 315V313.5H60.77V314" fill="none" stroke="#333" stroke-width="0.85"/>
<path d="M28.1 319.6V308.1H50.59V313.5" fill="none" stroke="#333" stroke-width="0.85"/>
<path d="M110.1 319.6V314.4H118.3V319.6" fill="none" stroke="#333" stroke-width="0.85"/>
<path d="M39.34 308.1V305.2H114.2V314.4" fill="none" stroke="#333" stroke-width="0.85"/>
<path d="M145.9 319.6V315.2H154.1V319.6" fill="none" stroke="#333" stroke-width="0.85"/>
<path d="M137.7 319.6V313.8H150V315.2" fill="none" stroke="#333" stroke-width="0.85"/>
<path d="M129.5 319.6V312.2H143.85V313.8" fill="none" stroke="#333" stroke-width="0.85"/>
<path d="M136.68 312.2V305.4H162.3V319.6" fill="none" stroke="#333" stroke-width="0.85"/>
<path d="M222.4 319.6V317.4H230.6V319.6" fill="none" stroke="#333" stroke-width="0.85"/>
<path d="M214.2 319.6V316.3H226.5V317.4" fill="none" stroke="#333" stroke-width="0.85"/>
<path d="M206 319.6V315.2H220.35V316.3" fill="none" stroke="#333" stroke-width="0.85"/>
<path d="M197.8 319.6V313.3H213.17V315.2" fill="none" stroke="#333" stroke-width="0.85"/>
<path d="M189.6 319.6V311H205.49V313.3" fill="none" stroke="#333" stroke-width="0.85"/>
<path d="M181.4 319.6V308.4H197.54V311" fill="none" stroke="#333" stroke-width="0.85"/>
<path d="M173.2 319.6V305H189.47V308.4" fill="none" stroke="#333" stroke-width="0.85"/>
<path d="M250 319.6V314.8H258.2V319.6" fill="none" stroke="#333" stroke-width="0.85"/>
<path d="M282.8 319.6V317.6H291V319.6" fill="none" stroke="#333" stroke-width="0.85"/>
<path d="M286.9 317.6V316.8H299.2V319.6" fill="none" stroke="#333" stroke-width="0.85"/>
<path d="M274.6 319.6V316.2H293.05V316.8" fill="none" stroke="#333" stroke-width="0.85"/>
<path d="M315.6 319.6V317H323.8V319.6" fill="none" stroke="#333" stroke-width="0.85"/>
<path d="M307.4 319.6V315.8H319.7V317" fill="none" stroke="#333" stroke-width="0.85"/>
<path d="M283.82 316.2V315.4H313.55V315.8" fill="none" stroke="#333" stroke-width="0.85"/>
<path d="M266.4 319.6V309.4H298.69V315.4" fill="none" stroke="#333" stroke-width="0.85"/>
<path d="M254.1 314.8V306.2H282.54V309.4" fill="none" stroke="#333" stroke-width="0.85"/>
<path d="M241.8 319.6V304.8H268.32V306.2" fill="none" stroke="#333" stroke-width="0.85"/>
<path d="M343.2 319.6V314.75H351.4V319.6" fill="none" stroke="#333" stroke-width="0.85"/>
<path d="M367.8 319.6V317.6H376V319.6" fill="none" stroke="#333" stroke-width="0.85"/>
<path d="M359.6 319.6V316.6H371.9V317.6" fill="none" stroke="#333" stroke-width="0.85"/>
<path d="M400.6 319.6V317.6H408.8V319.6" fill="none" stroke="#333" stroke-width="0.85"/>
<path d="M392.4 319.6V316.6H404.7V317.6" fill="none" stroke="#333" stroke-width="0.85"/>
<path d="M384.2 319.6V315.6H398.55V316.6" fill="none" stroke="#333" stroke-width="0.85"/>
<path d="M365.75 316.6V312.8H391.38V315.6" fill="none" stroke="#333" stroke-width="0.85"/>
<path d="M347.3 314.75V312.5H378.56V312.8" fill="none" stroke="#333" stroke-width="0.85"/>
<path d="M335 319.6V309H362.93V312.5" fill="none" stroke="#333" stroke-width="0.85"/>
<path d="M417 319.6V310.4H425.2V319.6" fill="none" stroke="#333" stroke-width="0.85"/>
<path d="M348.97 309V305H421.1V310.4" fill="none" stroke="#333" stroke-width="0.85"/>
<path d="M436.6 319.6V305.5H444.8V319.6" fill="none" stroke="#333" stroke-width="0.85"/>
<text x="73.5" y="300.3" font-size="8.4" fill="#222" text-anchor="middle">HD</text>
<text x="145.8" y="299.9" font-size="8.4" fill="#222" text-anchor="middle">SPAD</text>
<text x="202.3" y="299.9" font-size="8.4" fill="#222" text-anchor="middle">IgGSD</text>
<text x="283.5" y="299.9" font-size="8.4" fill="#222" text-anchor="middle">HGG</text>
<text x="380.9" y="299.9" font-size="8.4" fill="#222" text-anchor="middle">CVID</text>
<text x="427.4" y="299.4" font-size="8.4" fill="#222" textLength="35.7" lengthAdjust="spacingAndGlyphs">CVID PPV</text>
<text x="463.4" y="295.6" font-size="5.6" fill="#222" font-style="italic">low</text>
<path d="M453 321.3Q454 321.3 454 322.3V322.94Q454 323.94 455 323.94Q454 323.94 454 324.94V325.58Q454 326.58 453 326.58" fill="none" stroke="#333" stroke-width="0.8"/>
<path d="M452.6 329.48Q454 329.48 454 330.88V332.19Q454 333.59 455.4 333.59Q454 333.59 454 334.99V336.3Q454 337.7 452.6 337.7" fill="none" stroke="#333" stroke-width="0.8"/>
<path d="M452.2 340.6Q454 340.6 454 342.4V347.32Q454 349.12 455.8 349.12Q454 349.12 454 350.92V355.84Q454 357.64 452.2 357.64" fill="none" stroke="#333" stroke-width="0.8"/>
<path d="M452.2 360.54Q454 360.54 454 362.34V380.49Q454 382.29 455.8 382.29Q454 382.29 454 384.09V402.24Q454 404.04 452.2 404.04" fill="none" stroke="#333" stroke-width="0.8"/>
<path d="M452.2 406.94Q454 406.94 454 408.74V426.89Q454 428.69 455.8 428.69Q454 428.69 454 430.49V448.64Q454 450.44 452.2 450.44" fill="none" stroke="#333" stroke-width="0.8"/>
<path d="M453 453.34Q454 453.34 454 454.34V454.98Q454 455.98 455 455.98Q454 455.98 454 456.98V457.62Q454 458.62 453 458.62" fill="none" stroke="#333" stroke-width="0.8"/>
<text x="460" y="327.6" font-size="8.4" fill="#222" font-style="italic" textLength="55.2" lengthAdjust="spacingAndGlyphs">S. pneumoniae</text>
<text x="460" y="337.2" font-size="8.4" fill="#222" font-style="italic" textLength="45.6" lengthAdjust="spacingAndGlyphs">H.influenzae</text>
<text x="460" y="347.8" font-size="8.4" fill="#222" font-style="italic" textLength="33.0" lengthAdjust="spacingAndGlyphs">Neisseria</text>
<text x="460" y="357.6" font-size="8.4" fill="#222" font-style="italic" textLength="44.6" lengthAdjust="spacingAndGlyphs">meningitidis</text>
<text x="460" y="385.6" font-size="8.4" fill="#222" font-style="italic" textLength="22.5" lengthAdjust="spacingAndGlyphs">E. coli</text>
<text x="460" y="431.8" font-size="8.4" fill="#222" font-style="italic" textLength="30.7" lengthAdjust="spacingAndGlyphs">H. pylori</text>
<text x="460" y="459.6" font-size="8.4" fill="#222" font-style="italic" textLength="40.0" lengthAdjust="spacingAndGlyphs">Salmonella</text>
<text x="0" y="0" font-size="6.0" fill="#6a6a6a" text-anchor="middle" transform="translate(20.7 322.47) rotate(-90) scale(0.42 1)">40</text>
<text x="0" y="0" font-size="6.0" fill="#6a6a6a" text-anchor="middle" transform="translate(20.7 325.41) rotate(-90) scale(0.42 1)">85</text>
<text x="0" y="0" font-size="6.0" fill="#6a6a6a" text-anchor="middle" transform="translate(20.7 330.65) rotate(-90) scale(0.42 1)">79</text>
<text x="0" y="0" font-size="6.0" fill="#6a6a6a" text-anchor="middle" transform="translate(20.7 333.59) rotate(-90) scale(0.42 1)">26</text>
<text x="0" y="0" font-size="6.0" fill="#6a6a6a" text-anchor="middle" transform="translate(20.7 336.53) rotate(-90) scale(0.42 1)">57</text>
<text x="0" y="0" font-size="6.0" fill="#6a6a6a" text-anchor="middle" transform="translate(20.7 341.77) rotate(-90) scale(0.42 1)">87</text>
<text x="0" y="0" font-size="6.0" fill="#6a6a6a" text-anchor="middle" transform="translate(20.7 344.71) rotate(-90) scale(0.42 1)">70</text>
<text x="0" y="0" font-size="6.0" fill="#6a6a6a" text-anchor="middle" transform="translate(20.7 347.65) rotate(-90) scale(0.42 1)">90</text>
<text x="0" y="0" font-size="6.0" fill="#6a6a6a" text-anchor="middle" transform="translate(20.7 350.59) rotate(-90) scale(0.42 1)">84</text>
<text x="0" y="0" font-size="6.0" fill="#6a6a6a" text-anchor="middle" transform="translate(20.7 353.53) rotate(-90) scale(0.42 1)">18</text>
<text x="0" y="0" font-size="6.0" fill="#6a6a6a" text-anchor="middle" transform="translate(20.7 356.47) rotate(-90) scale(0.42 1)">87</text>
<text x="0" y="0" font-size="6.0" fill="#6a6a6a" text-anchor="middle" transform="translate(20.7 361.71) rotate(-90) scale(0.42 1)">11</text>
<text x="0" y="0" font-size="6.0" fill="#6a6a6a" text-anchor="middle" transform="translate(20.7 364.65) rotate(-90) scale(0.42 1)">70</text>
<text x="0" y="0" font-size="6.0" fill="#6a6a6a" text-anchor="middle" transform="translate(20.7 367.59) rotate(-90) scale(0.42 1)">43</text>
<text x="0" y="0" font-size="6.0" fill="#6a6a6a" text-anchor="middle" transform="translate(20.7 370.53) rotate(-90) scale(0.42 1)">80</text>
<text x="0" y="0" font-size="6.0" fill="#6a6a6a" text-anchor="middle" transform="translate(20.7 373.47) rotate(-90) scale(0.42 1)">39</text>
<text x="0" y="0" font-size="6.0" fill="#6a6a6a" text-anchor="middle" transform="translate(20.7 376.41) rotate(-90) scale(0.42 1)">34</text>
<text x="0" y="0" font-size="6.0" fill="#6a6a6a" text-anchor="middle" transform="translate(20.7 379.35) rotate(-90) scale(0.42 1)">70</text>
<text x="0" y="0" font-size="6.0" fill="#6a6a6a" text-anchor="middle" transform="translate(20.7 382.29) rotate(-90) scale(0.42 1)">79</text>
<text x="0" y="0" font-size="6.0" fill="#6a6a6a" text-anchor="middle" transform="translate(20.7 385.23) rotate(-90) scale(0.42 1)">80</text>
<text x="0" y="0" font-size="6.0" fill="#6a6a6a" text-anchor="middle" transform="translate(20.7 388.17) rotate(-90) scale(0.42 1)">70</text>
<text x="0" y="0" font-size="6.0" fill="#6a6a6a" text-anchor="middle" transform="translate(20.7 391.11) rotate(-90) scale(0.42 1)">60</text>
<text x="0" y="0" font-size="6.0" fill="#6a6a6a" text-anchor="middle" transform="translate(20.7 394.05) rotate(-90) scale(0.42 1)">91</text>
<text x="0" y="0" font-size="6.0" fill="#6a6a6a" text-anchor="middle" transform="translate(20.7 396.99) rotate(-90) scale(0.42 1)">29</text>
<text x="0" y="0" font-size="6.0" fill="#6a6a6a" text-anchor="middle" transform="translate(20.7 399.93) rotate(-90) scale(0.42 1)">39</text>
<text x="0" y="0" font-size="6.0" fill="#6a6a6a" text-anchor="middle" transform="translate(20.7 402.87) rotate(-90) scale(0.42 1)">91</text>
<text x="0" y="0" font-size="6.0" fill="#6a6a6a" text-anchor="middle" transform="translate(20.7 408.11) rotate(-90) scale(0.42 1)">29</text>
<text x="0" y="0" font-size="6.0" fill="#6a6a6a" text-anchor="middle" transform="translate(20.7 411.05) rotate(-90) scale(0.42 1)">76</text>
<text x="0" y="0" font-size="6.0" fill="#6a6a6a" text-anchor="middle" transform="translate(20.7 413.99) rotate(-90) scale(0.42 1)">59</text>
<text x="0" y="0" font-size="6.0" fill="#6a6a6a" text-anchor="middle" transform="translate(20.7 416.93) rotate(-90) scale(0.42 1)">11</text>
<text x="0" y="0" font-size="6.0" fill="#6a6a6a" text-anchor="middle" transform="translate(20.7 419.87) rotate(-90) scale(0.42 1)">95</text>
<text x="0" y="0" font-size="6.0" fill="#6a6a6a" text-anchor="middle" transform="translate(20.7 422.81) rotate(-90) scale(0.42 1)">18</text>
<text x="0" y="0" font-size="6.0" fill="#6a6a6a" text-anchor="middle" transform="translate(20.7 425.75) rotate(-90) scale(0.42 1)">30</text>
<text x="0" y="0" font-size="6.0" fill="#6a6a6a" text-anchor="middle" transform="translate(20.7 428.69) rotate(-90) scale(0.42 1)">85</text>
<text x="0" y="0" font-size="6.0" fill="#6a6a6a" text-anchor="middle" transform="translate(20.7 431.63) rotate(-90) scale(0.42 1)">15</text>
<text x="0" y="0" font-size="6.0" fill="#6a6a6a" text-anchor="middle" transform="translate(20.7 434.57) rotate(-90) scale(0.42 1)">48</text>
<text x="0" y="0" font-size="6.0" fill="#6a6a6a" text-anchor="middle" transform="translate(20.7 437.51) rotate(-90) scale(0.42 1)">13</text>
<text x="0" y="0" font-size="6.0" fill="#6a6a6a" text-anchor="middle" transform="translate(20.7 440.45) rotate(-90) scale(0.42 1)">44</text>
<text x="0" y="0" font-size="6.0" fill="#6a6a6a" text-anchor="middle" transform="translate(20.7 443.39) rotate(-90) scale(0.42 1)">70</text>
<text x="0" y="0" font-size="6.0" fill="#6a6a6a" text-anchor="middle" transform="translate(20.7 446.33) rotate(-90) scale(0.42 1)">86</text>
<text x="0" y="0" font-size="6.0" fill="#6a6a6a" text-anchor="middle" transform="translate(20.7 449.27) rotate(-90) scale(0.42 1)">59</text>
<text x="0" y="0" font-size="6.0" fill="#6a6a6a" text-anchor="middle" transform="translate(20.7 454.51) rotate(-90) scale(0.42 1)">64</text>
<text x="0" y="0" font-size="6.0" fill="#6a6a6a" text-anchor="middle" transform="translate(20.7 457.45) rotate(-90) scale(0.42 1)">60</text>
<text x="0" y="0" font-size="8.8" fill="#222" text-anchor="end" transform="translate(31.1 461.9) rotate(-90) scale(0.94 1)">HD #2</text>
<text x="0" y="0" font-size="8.8" fill="#222" text-anchor="end" transform="translate(39.3 461.9) rotate(-90) scale(0.94 1)">HD #6</text>
<text x="0" y="0" font-size="8.8" fill="#222" text-anchor="end" transform="translate(47.5 461.9) rotate(-90) scale(0.94 1)">HD #81</text>
<text x="0" y="0" font-size="8.8" fill="#222" text-anchor="end" transform="translate(55.7 461.9) rotate(-90) scale(0.94 1)">HD #23</text>
<text x="0" y="0" font-size="8.8" fill="#222" text-anchor="end" transform="translate(63.9 461.9) rotate(-90) scale(0.94 1)">HD #82</text>
<text x="0" y="0" font-size="8.8" fill="#222" text-anchor="end" transform="translate(72.1 461.9) rotate(-90) scale(0.94 1)">HD #77</text>
<text x="0" y="0" font-size="8.8" fill="#222" text-anchor="end" transform="translate(80.3 461.9) rotate(-90) scale(0.94 1)">HD #5</text>
<text x="0" y="0" font-size="8.8" fill="#222" text-anchor="end" transform="translate(88.5 461.9) rotate(-90) scale(0.94 1)">HD #3</text>
<text x="0" y="0" font-size="8.8" fill="#222" text-anchor="end" transform="translate(96.7 461.9) rotate(-90) scale(0.94 1)">HD #79</text>
<text x="0" y="0" font-size="8.8" fill="#222" text-anchor="end" transform="translate(104.9 461.9) rotate(-90) scale(0.94 1)">HD #85</text>
<text x="0" y="0" font-size="8.8" fill="#222" text-anchor="end" transform="translate(113.1 461.9) rotate(-90) scale(0.94 1)">HD #4</text>
<text x="0" y="0" font-size="8.8" fill="#222" text-anchor="end" transform="translate(121.3 461.9) rotate(-90) scale(0.94 1)">HD #1</text>
<text x="0" y="0" font-size="8.8" fill="#222" text-anchor="end" transform="translate(132.5 461.9) rotate(-90) scale(0.94 1)">SPAD #72</text>
<text x="0" y="0" font-size="8.8" fill="#222" text-anchor="end" transform="translate(140.7 461.9) rotate(-90) scale(0.94 1)">SPAD #75</text>
<text x="0" y="0" font-size="8.8" fill="#222" text-anchor="end" transform="translate(148.9 461.9) rotate(-90) scale(0.94 1)">SPAD #76</text>
<text x="0" y="0" font-size="8.8" fill="#222" text-anchor="end" transform="translate(157.1 461.9) rotate(-90) scale(0.94 1)">SPAD #73</text>
<text x="0" y="0" font-size="8.8" fill="#222" text-anchor="end" transform="translate(165.3 461.9) rotate(-90) scale(0.94 1)">SPAD #74</text>
<text x="0" y="0" font-size="8.8" fill="#222" text-anchor="end" transform="translate(176.2 461.9) rotate(-90) scale(0.94 1)">IgGSD #65</text>
<text x="0" y="0" font-size="8.8" fill="#222" text-anchor="end" transform="translate(184.4 461.9) rotate(-90) scale(0.94 1)">IgGSD #64</text>
<text x="0" y="0" font-size="8.8" fill="#222" text-anchor="end" transform="translate(192.6 461.9) rotate(-90) scale(0.94 1)">IgGSD #66</text>
<text x="0" y="0" font-size="8.8" fill="#222" text-anchor="end" transform="translate(200.8 461.9) rotate(-90) scale(0.94 1)">IgGSD #69</text>
<text x="0" y="0" font-size="8.8" fill="#222" text-anchor="end" transform="translate(209 461.9) rotate(-90) scale(0.94 1)">IgGSD #70</text>
<text x="0" y="0" font-size="8.8" fill="#222" text-anchor="end" transform="translate(217.2 461.9) rotate(-90) scale(0.94 1)">IgGSD #71</text>
<text x="0" y="0" font-size="8.8" fill="#222" text-anchor="end" transform="translate(225.4 461.9) rotate(-90) scale(0.94 1)">IgGSD #68</text>
<text x="0" y="0" font-size="8.8" fill="#222" text-anchor="end" transform="translate(233.6 461.9) rotate(-90) scale(0.94 1)">IgGSD #67</text>
<text x="0" y="0" font-size="8.8" fill="#222" text-anchor="end" transform="translate(244.8 461.9) rotate(-90) scale(0.94 1)">HGG #39</text>
<text x="0" y="0" font-size="8.8" fill="#222" text-anchor="end" transform="translate(253 461.9) rotate(-90) scale(0.94 1)">HGG #49</text>
<text x="0" y="0" font-size="8.8" fill="#222" text-anchor="end" transform="translate(261.2 461.9) rotate(-90) scale(0.94 1)">HGG #35</text>
<text x="0" y="0" font-size="8.8" fill="#222" text-anchor="end" transform="translate(269.4 461.9) rotate(-90) scale(0.94 1)">HGG #32</text>
<text x="0" y="0" font-size="8.8" fill="#222" text-anchor="end" transform="translate(277.6 461.9) rotate(-90) scale(0.94 1)">HGG #61</text>
<text x="0" y="0" font-size="8.8" fill="#222" text-anchor="end" transform="translate(285.8 461.9) rotate(-90) scale(0.94 1)">HGG #47</text>
<text x="0" y="0" font-size="8.8" fill="#222" text-anchor="end" transform="translate(294 461.9) rotate(-90) scale(0.94 1)">HGG #53</text>
<text x="0" y="0" font-size="8.8" fill="#222" text-anchor="end" transform="translate(302.2 461.9) rotate(-90) scale(0.94 1)">HGG #59</text>
<text x="0" y="0" font-size="8.8" fill="#222" text-anchor="end" transform="translate(310.4 461.9) rotate(-90) scale(0.94 1)">HGG #45</text>
<text x="0" y="0" font-size="8.8" fill="#222" text-anchor="end" transform="translate(318.6 461.9) rotate(-90) scale(0.94 1)">HGG #57</text>
<text x="0" y="0" font-size="8.8" fill="#222" text-anchor="end" transform="translate(326.8 461.9) rotate(-90) scale(0.94 1)">HGG #42</text>
<text x="0" y="0" font-size="8.8" fill="#222" text-anchor="end" transform="translate(338 461.9) rotate(-90) scale(0.94 1)">CVID #14</text>
<text x="0" y="0" font-size="8.8" fill="#222" text-anchor="end" transform="translate(346.2 461.9) rotate(-90) scale(0.94 1)">CVID #16</text>
<text x="0" y="0" font-size="8.8" fill="#222" text-anchor="end" transform="translate(354.4 461.9) rotate(-90) scale(0.94 1)">CVID #11</text>
<text x="0" y="0" font-size="8.8" fill="#222" text-anchor="end" transform="translate(362.6 461.9) rotate(-90) scale(0.94 1)">CVID #26</text>
<text x="0" y="0" font-size="8.8" fill="#222" text-anchor="end" transform="translate(370.8 461.9) rotate(-90) scale(0.94 1)">CVID #21</text>
<text x="0" y="0" font-size="8.8" fill="#222" text-anchor="end" transform="translate(379 461.9) rotate(-90) scale(0.94 1)">CVID #18</text>
<text x="0" y="0" font-size="8.8" fill="#222" text-anchor="end" transform="translate(387.2 461.9) rotate(-90) scale(0.94 1)">CVID #13</text>
<text x="0" y="0" font-size="8.8" fill="#222" text-anchor="end" transform="translate(395.4 461.9) rotate(-90) scale(0.94 1)">CVID #9</text>
<text x="0" y="0" font-size="8.8" fill="#222" text-anchor="end" transform="translate(403.6 461.9) rotate(-90) scale(0.94 1)">CVID #19</text>
<text x="0" y="0" font-size="8.8" fill="#222" text-anchor="end" transform="translate(411.8 461.9) rotate(-90) scale(0.94 1)">CVID #25</text>
<text x="0" y="0" font-size="8.8" fill="#222" text-anchor="end" transform="translate(420 461.9) rotate(-90) scale(0.94 1)">CVID #24</text>
<text x="0" y="0" font-size="8.8" fill="#222" text-anchor="end" transform="translate(428.2 461.9) rotate(-90) scale(0.94 1)">CVID #15</text>
<text x="0" y="0" font-size="8.8" fill="#222" text-anchor="end" transform="translate(439.6 461.9) rotate(-90) scale(0.94 1)">CVID PPV<tspan font-size="6.6" font-style="italic" dy="-3.0">low</tspan><tspan dy="3.0"> #17</tspan></text>
<text x="0" y="0" font-size="8.8" fill="#222" text-anchor="end" transform="translate(447.8 461.9) rotate(-90) scale(0.94 1)">CVID PPV<tspan font-size="6.6" font-style="italic" dy="-3.0">low</tspan><tspan dy="3.0"> #7</tspan></text>
<rect x="0.5" y="0.5" width="519" height="530" fill="none" stroke="#000" stroke-width="1"/>
</svg></body></html>
